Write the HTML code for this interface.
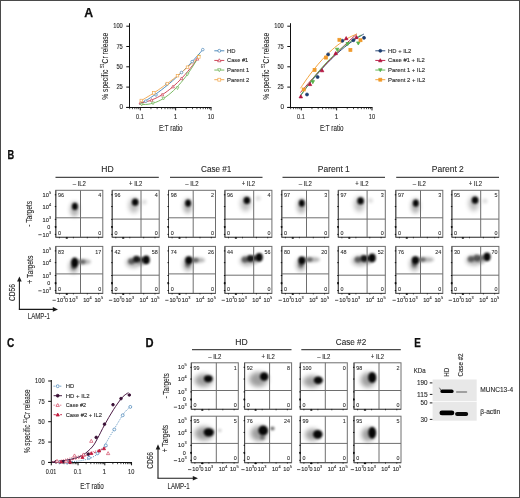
<!DOCTYPE html>
<html><head><meta charset="utf-8"><title>Figure</title><style>html,body{margin:0;padding:0;background:#fff;width:520px;height:498px;overflow:hidden;}svg{display:block;font-family:"Liberation Sans", sans-serif;will-change:transform;}</style></head><body><svg width="520" height="498" viewBox="0 0 520 498" font-family='"Liberation Sans", sans-serif'><defs><clipPath id="c558_1903"><rect x="55.8" y="190.3" width="47" height="47"/></clipPath><filter id="b0" x="-100%" y="-100%" width="300%" height="300%"><feGaussianBlur stdDeviation="2.3"/></filter><filter id="b1" x="-100%" y="-100%" width="300%" height="300%"><feGaussianBlur stdDeviation="1.0"/></filter><clipPath id="c1122_1903"><rect x="112.2" y="190.3" width="47" height="47"/></clipPath><filter id="b2" x="-100%" y="-100%" width="300%" height="300%"><feGaussianBlur stdDeviation="2.4"/></filter><filter id="b3" x="-100%" y="-100%" width="300%" height="300%"><feGaussianBlur stdDeviation="1.4"/></filter><clipPath id="c1685_1903"><rect x="168.5" y="190.3" width="47" height="47"/></clipPath><clipPath id="c2249_1903"><rect x="224.9" y="190.3" width="47" height="47"/></clipPath><clipPath id="c2818_1903"><rect x="281.8" y="190.3" width="47" height="47"/></clipPath><clipPath id="c3383_1903"><rect x="338.3" y="190.3" width="47" height="47"/></clipPath><clipPath id="c3958_1903"><rect x="395.8" y="190.3" width="47" height="47"/></clipPath><clipPath id="c4519_1903"><rect x="451.9" y="190.3" width="47" height="47"/></clipPath><clipPath id="c558_2464"><rect x="55.8" y="246.4" width="47" height="47"/></clipPath><filter id="b4" x="-100%" y="-100%" width="300%" height="300%"><feGaussianBlur stdDeviation="2.2"/></filter><filter id="b5" x="-100%" y="-100%" width="300%" height="300%"><feGaussianBlur stdDeviation="1.2"/></filter><filter id="b6" x="-100%" y="-100%" width="300%" height="300%"><feGaussianBlur stdDeviation="1.5"/></filter><clipPath id="c1122_2464"><rect x="112.2" y="246.4" width="47" height="47"/></clipPath><filter id="b7" x="-100%" y="-100%" width="300%" height="300%"><feGaussianBlur stdDeviation="2.0"/></filter><filter id="b8" x="-100%" y="-100%" width="300%" height="300%"><feGaussianBlur stdDeviation="1.3"/></filter><clipPath id="c1685_2464"><rect x="168.5" y="246.4" width="47" height="47"/></clipPath><clipPath id="c2249_2464"><rect x="224.9" y="246.4" width="47" height="47"/></clipPath><clipPath id="c2818_2464"><rect x="281.8" y="246.4" width="47" height="47"/></clipPath><clipPath id="c3383_2464"><rect x="338.3" y="246.4" width="47" height="47"/></clipPath><clipPath id="c3958_2464"><rect x="395.8" y="246.4" width="47" height="47"/></clipPath><clipPath id="c4519_2464"><rect x="451.9" y="246.4" width="47" height="47"/></clipPath><clipPath id="c1913_3628"><rect x="191.3" y="362.8" width="47" height="46.5"/></clipPath><filter id="b9" x="-100%" y="-100%" width="300%" height="300%"><feGaussianBlur stdDeviation="1.05"/></filter><clipPath id="c2446_3628"><rect x="244.6" y="362.8" width="47" height="46.5"/></clipPath><clipPath id="c3003_3628"><rect x="300.3" y="362.8" width="47" height="46.5"/></clipPath><clipPath id="c3540_3628"><rect x="354.0" y="362.8" width="47" height="46.5"/></clipPath><clipPath id="c1913_4162"><rect x="191.3" y="416.2" width="47" height="46.5"/></clipPath><clipPath id="c2446_4162"><rect x="244.6" y="416.2" width="47" height="46.5"/></clipPath><clipPath id="c3003_4162"><rect x="300.3" y="416.2" width="47" height="46.5"/></clipPath><clipPath id="c3540_4162"><rect x="354.0" y="416.2" width="47" height="46.5"/></clipPath><filter id="bb" x="-20%" y="-100%" width="140%" height="300%"><feGaussianBlur stdDeviation="0.55"/></filter></defs><rect x="0.5" y="0.5" width="519" height="497" fill="none" stroke="#4a4a4a" stroke-width="1"/>
<text x="84.20" y="16.56" font-size="12.2" text-anchor="start" fill="#0e0e0e" stroke="#0e0e0e" stroke-width="0.25" font-weight="bold" textLength="8.90" lengthAdjust="spacingAndGlyphs">A</text>
<text x="7.60" y="158.56" font-size="12.2" text-anchor="start" fill="#0e0e0e" stroke="#0e0e0e" stroke-width="0.25" font-weight="bold" textLength="6.70" lengthAdjust="spacingAndGlyphs">B</text>
<text x="7.00" y="347.41" font-size="12.2" text-anchor="start" fill="#0e0e0e" stroke="#0e0e0e" stroke-width="0.25" font-weight="bold" textLength="7.30" lengthAdjust="spacingAndGlyphs">C</text>
<text x="145.60" y="347.06" font-size="12.2" text-anchor="start" fill="#0e0e0e" stroke="#0e0e0e" stroke-width="0.25" font-weight="bold" textLength="8.05" lengthAdjust="spacingAndGlyphs">D</text>
<text x="414.30" y="346.86" font-size="12.2" text-anchor="start" fill="#0e0e0e" stroke="#0e0e0e" stroke-width="0.25" font-weight="bold" textLength="6.60" lengthAdjust="spacingAndGlyphs">E</text>
<line x1="129.50" y1="23.20" x2="129.50" y2="107.90" stroke="#111" stroke-width="1.05" />
<line x1="126.30" y1="107.40" x2="211.50" y2="107.40" stroke="#111" stroke-width="1.05" />
<line x1="126.30" y1="107.40" x2="129.50" y2="107.40" stroke="#111" stroke-width="1.0" />
<line x1="126.30" y1="87.10" x2="129.50" y2="87.10" stroke="#111" stroke-width="1.0" />
<text x="122.80" y="89.31" font-size="6.4" text-anchor="end" fill="#2a2a2a" stroke="#2a2a2a" stroke-width="0.12" textLength="6.40" lengthAdjust="spacingAndGlyphs">25</text>
<line x1="126.30" y1="66.80" x2="129.50" y2="66.80" stroke="#111" stroke-width="1.0" />
<text x="122.80" y="69.01" font-size="6.4" text-anchor="end" fill="#2a2a2a" stroke="#2a2a2a" stroke-width="0.12" textLength="6.40" lengthAdjust="spacingAndGlyphs">50</text>
<line x1="126.30" y1="46.50" x2="129.50" y2="46.50" stroke="#111" stroke-width="1.0" />
<text x="122.80" y="48.71" font-size="6.4" text-anchor="end" fill="#2a2a2a" stroke="#2a2a2a" stroke-width="0.12" textLength="6.40" lengthAdjust="spacingAndGlyphs">75</text>
<line x1="126.30" y1="26.20" x2="129.50" y2="26.20" stroke="#111" stroke-width="1.0" />
<text x="122.80" y="28.41" font-size="6.4" text-anchor="end" fill="#2a2a2a" stroke="#2a2a2a" stroke-width="0.12" textLength="9.60" lengthAdjust="spacingAndGlyphs">100</text>
<text x="123.00" y="109.31" font-size="6.4" text-anchor="end" fill="#2a2a2a" stroke="#2a2a2a" stroke-width="0.12">0</text>
<line x1="129.66" y1="107.40" x2="129.66" y2="109.20" stroke="#111" stroke-width="0.75" />
<line x1="132.46" y1="107.40" x2="132.46" y2="109.20" stroke="#111" stroke-width="0.75" />
<line x1="134.82" y1="107.40" x2="134.82" y2="109.20" stroke="#111" stroke-width="0.75" />
<line x1="136.87" y1="107.40" x2="136.87" y2="109.20" stroke="#111" stroke-width="0.75" />
<line x1="138.68" y1="107.40" x2="138.68" y2="109.20" stroke="#111" stroke-width="0.75" />
<line x1="140.30" y1="107.40" x2="140.30" y2="110.40" stroke="#111" stroke-width="1.0" />
<line x1="150.94" y1="107.40" x2="150.94" y2="109.20" stroke="#111" stroke-width="0.75" />
<line x1="157.17" y1="107.40" x2="157.17" y2="109.20" stroke="#111" stroke-width="0.75" />
<line x1="161.58" y1="107.40" x2="161.58" y2="109.20" stroke="#111" stroke-width="0.75" />
<line x1="165.01" y1="107.40" x2="165.01" y2="109.20" stroke="#111" stroke-width="0.75" />
<line x1="167.81" y1="107.40" x2="167.81" y2="109.20" stroke="#111" stroke-width="0.75" />
<line x1="170.17" y1="107.40" x2="170.17" y2="109.20" stroke="#111" stroke-width="0.75" />
<line x1="172.22" y1="107.40" x2="172.22" y2="109.20" stroke="#111" stroke-width="0.75" />
<line x1="174.03" y1="107.40" x2="174.03" y2="109.20" stroke="#111" stroke-width="0.75" />
<line x1="175.65" y1="107.40" x2="175.65" y2="110.40" stroke="#111" stroke-width="1.0" />
<line x1="186.29" y1="107.40" x2="186.29" y2="109.20" stroke="#111" stroke-width="0.75" />
<line x1="192.52" y1="107.40" x2="192.52" y2="109.20" stroke="#111" stroke-width="0.75" />
<line x1="196.93" y1="107.40" x2="196.93" y2="109.20" stroke="#111" stroke-width="0.75" />
<line x1="200.36" y1="107.40" x2="200.36" y2="109.20" stroke="#111" stroke-width="0.75" />
<line x1="203.16" y1="107.40" x2="203.16" y2="109.20" stroke="#111" stroke-width="0.75" />
<line x1="205.52" y1="107.40" x2="205.52" y2="109.20" stroke="#111" stroke-width="0.75" />
<line x1="207.57" y1="107.40" x2="207.57" y2="109.20" stroke="#111" stroke-width="0.75" />
<line x1="209.38" y1="107.40" x2="209.38" y2="109.20" stroke="#111" stroke-width="0.75" />
<line x1="211.00" y1="107.40" x2="211.00" y2="110.40" stroke="#111" stroke-width="1.0" />
<text x="139.90" y="118.91" font-size="6.4" text-anchor="middle" fill="#2a2a2a" stroke="#2a2a2a" stroke-width="0.12" textLength="7.60" lengthAdjust="spacingAndGlyphs">0.1</text>
<text x="175.65" y="118.91" font-size="6.4" text-anchor="middle" fill="#2a2a2a" stroke="#2a2a2a" stroke-width="0.12">1</text>
<text x="211.00" y="118.91" font-size="6.4" text-anchor="middle" fill="#2a2a2a" stroke="#2a2a2a" stroke-width="0.12" textLength="6.30" lengthAdjust="spacingAndGlyphs">10</text>
<text x="170.75" y="130.94" font-size="8.8" text-anchor="middle" fill="#2a2a2a" stroke="#2a2a2a" stroke-width="0.12" textLength="23.70" lengthAdjust="spacingAndGlyphs">E:T ratio</text>
<text x="104.30" y="69.44" font-size="9.4" text-anchor="middle" fill="#2a2a2a" stroke="#2a2a2a" stroke-width="0.12" transform="rotate(-90 104.30 66.20)" textLength="67" lengthAdjust="spacingAndGlyphs">% specific <tspan font-size="5.6" dy="-3.4">51</tspan><tspan dy="3.4">Cr release</tspan></text>
<path d="M139.50,104.31 C139.96,104.05 141.33,103.29 142.25,102.76 C143.17,102.24 144.09,101.70 145.00,101.15 C145.92,100.59 146.84,100.03 147.76,99.45 C148.67,98.87 149.59,98.28 150.51,97.68 C151.43,97.08 152.34,96.46 153.26,95.84 C154.18,95.21 155.10,94.57 156.01,93.91 C156.93,93.26 157.85,92.59 158.77,91.92 C159.68,91.24 160.60,90.55 161.52,89.84 C162.43,89.14 163.35,88.42 164.27,87.69 C165.19,86.96 166.10,86.22 167.02,85.47 C167.94,84.71 168.86,83.94 169.77,83.16 C170.69,82.38 171.61,81.59 172.53,80.79 C173.44,79.98 174.36,79.16 175.28,78.33 C176.20,77.50 177.11,76.66 178.03,75.80 C178.95,74.95 179.87,74.08 180.78,73.20 C181.70,72.32 182.62,71.42 183.53,70.52 C184.45,69.61 185.37,68.69 186.29,67.76 C187.20,66.83 188.12,65.88 189.04,64.92 C189.96,63.97 190.87,63.00 191.79,62.02 C192.71,61.03 193.63,60.04 194.54,59.03 C195.46,58.02 196.38,57.00 197.30,55.97 C198.21,54.94 199.13,53.89 200.05,52.83 C200.97,51.77 202.34,50.15 202.80,49.62" fill="none" stroke="#3f7fb4" stroke-width="0.9"/>
<path d="M139.80,102.93 C140.22,102.87 141.47,102.71 142.31,102.57 C143.14,102.43 143.98,102.26 144.82,102.07 C145.65,101.88 146.49,101.66 147.33,101.43 C148.16,101.19 149.00,100.93 149.83,100.64 C150.67,100.35 151.51,100.05 152.34,99.71 C153.18,99.38 154.02,99.02 154.85,98.64 C155.69,98.26 156.52,97.86 157.36,97.43 C158.20,97.00 159.03,96.55 159.87,96.07 C160.71,95.60 161.54,95.10 162.38,94.58 C163.21,94.05 164.05,93.51 164.89,92.94 C165.72,92.37 166.56,91.77 167.40,91.15 C168.23,90.54 169.07,89.89 169.90,89.23 C170.74,88.56 171.58,87.87 172.41,87.16 C173.25,86.45 174.09,85.71 174.92,84.95 C175.76,84.19 176.59,83.41 177.43,82.60 C178.27,81.79 179.10,80.96 179.94,80.10 C180.78,79.25 181.61,78.37 182.45,77.47 C183.28,76.56 184.12,75.64 184.96,74.69 C185.79,73.74 186.63,72.76 187.47,71.76 C188.30,70.77 189.14,69.75 189.97,68.70 C190.81,67.65 191.65,66.59 192.48,65.49 C193.32,64.40 194.16,63.28 194.99,62.14 C195.83,61.00 197.08,59.23 197.50,58.65" fill="none" stroke="#c8354a" stroke-width="0.9"/>
<path d="M140.50,104.26 C140.92,104.29 142.19,104.42 143.03,104.45 C143.88,104.48 144.72,104.48 145.57,104.44 C146.41,104.40 147.26,104.33 148.10,104.22 C148.95,104.11 149.79,103.97 150.64,103.79 C151.48,103.62 152.33,103.41 153.17,103.16 C154.02,102.92 154.86,102.64 155.71,102.32 C156.55,102.01 157.40,101.66 158.24,101.28 C159.09,100.89 159.93,100.47 160.78,100.02 C161.62,99.57 162.47,99.08 163.31,98.56 C164.16,98.04 165.00,97.48 165.85,96.89 C166.69,96.30 167.54,95.68 168.38,95.02 C169.23,94.36 170.07,93.67 170.92,92.94 C171.76,92.21 172.61,91.45 173.45,90.65 C174.30,89.85 175.14,89.02 175.99,88.16 C176.83,87.29 177.68,86.39 178.52,85.45 C179.37,84.52 180.21,83.55 181.06,82.55 C181.90,81.54 182.75,80.50 183.59,79.43 C184.44,78.36 185.28,77.25 186.13,76.11 C186.97,74.97 187.82,73.79 188.66,72.58 C189.51,71.37 190.35,70.12 191.20,68.84 C192.04,67.56 192.89,66.25 193.73,64.90 C194.58,63.55 195.42,62.16 196.27,60.75 C197.11,59.33 198.38,57.12 198.80,56.39" fill="none" stroke="#6db355" stroke-width="0.9"/>
<path d="M140.50,100.96 C140.92,100.72 142.19,100.00 143.03,99.52 C143.88,99.03 144.72,98.54 145.57,98.04 C146.41,97.53 147.26,97.03 148.10,96.51 C148.95,95.99 149.79,95.47 150.64,94.94 C151.48,94.41 152.33,93.88 153.17,93.33 C154.02,92.79 154.86,92.23 155.71,91.68 C156.55,91.12 157.40,90.55 158.24,89.98 C159.09,89.40 159.93,88.82 160.78,88.24 C161.62,87.65 162.47,87.05 163.31,86.45 C164.16,85.85 165.00,85.24 165.85,84.62 C166.69,84.01 167.54,83.38 168.38,82.75 C169.23,82.12 170.07,81.48 170.92,80.84 C171.76,80.19 172.61,79.54 173.45,78.88 C174.30,78.22 175.14,77.55 175.99,76.88 C176.83,76.20 177.68,75.52 178.52,74.83 C179.37,74.15 180.21,73.45 181.06,72.75 C181.90,72.04 182.75,71.33 183.59,70.62 C184.44,69.90 185.28,69.17 186.13,68.44 C186.97,67.71 187.82,66.97 188.66,66.22 C189.51,65.48 190.35,64.72 191.20,63.96 C192.04,63.20 192.89,62.43 193.73,61.66 C194.58,60.88 195.42,60.10 196.27,59.31 C197.11,58.52 198.38,57.32 198.80,56.92" fill="none" stroke="#f2a446" stroke-width="0.9"/>
<circle cx="145.80" cy="101.16" r="1.3" fill="white" stroke="#3f7fb4" stroke-width="0.65"/>
<circle cx="156.00" cy="94.92" r="1.3" fill="white" stroke="#3f7fb4" stroke-width="0.65"/>
<circle cx="166.80" cy="84.15" r="1.3" fill="white" stroke="#3f7fb4" stroke-width="0.65"/>
<circle cx="181.50" cy="72.51" r="1.3" fill="white" stroke="#3f7fb4" stroke-width="0.65"/>
<circle cx="192.20" cy="61.58" r="1.3" fill="white" stroke="#3f7fb4" stroke-width="0.65"/>
<circle cx="202.80" cy="49.62" r="1.3" fill="white" stroke="#3f7fb4" stroke-width="0.65"/>
<path d="M140.50,101.35 L142.00,104.04 L139.00,104.04 Z" fill="white" stroke="#c8354a" stroke-width="0.65"/>
<path d="M151.50,98.55 L153.00,101.24 L150.00,101.24 Z" fill="white" stroke="#c8354a" stroke-width="0.65"/>
<path d="M162.20,93.19 L163.69,95.88 L160.70,95.88 Z" fill="white" stroke="#c8354a" stroke-width="0.65"/>
<path d="M173.00,85.16 L174.50,87.85 L171.50,87.85 Z" fill="white" stroke="#c8354a" stroke-width="0.65"/>
<path d="M181.50,76.98 L183.00,79.68 L180.00,79.68 Z" fill="white" stroke="#c8354a" stroke-width="0.65"/>
<path d="M197.30,57.44 L198.80,60.13 L195.81,60.13 Z" fill="white" stroke="#c8354a" stroke-width="0.65"/>
<path d="M141.70,105.87 L143.19,103.18 L140.20,103.18 Z" fill="white" stroke="#6db355" stroke-width="0.65"/>
<path d="M153.00,104.71 L154.50,102.02 L151.50,102.02 Z" fill="white" stroke="#6db355" stroke-width="0.65"/>
<path d="M163.50,99.94 L165.00,97.25 L162.00,97.25 Z" fill="white" stroke="#6db355" stroke-width="0.65"/>
<path d="M177.50,89.56 L179.00,86.87 L176.00,86.87 Z" fill="white" stroke="#6db355" stroke-width="0.65"/>
<path d="M187.50,75.71 L189.00,73.02 L186.00,73.02 Z" fill="white" stroke="#6db355" stroke-width="0.65"/>
<path d="M198.80,57.88 L200.30,55.19 L197.31,55.19 Z" fill="white" stroke="#6db355" stroke-width="0.65"/>
<rect x="140.00" y="99.21" width="2.60" height="2.60" fill="white" stroke="#f2a446" stroke-width="0.65"/>
<rect x="152.50" y="91.63" width="2.60" height="2.60" fill="white" stroke="#f2a446" stroke-width="0.65"/>
<rect x="166.00" y="82.26" width="2.60" height="2.60" fill="white" stroke="#f2a446" stroke-width="0.65"/>
<rect x="176.20" y="74.36" width="2.60" height="2.60" fill="white" stroke="#f2a446" stroke-width="0.65"/>
<rect x="186.20" y="65.94" width="2.60" height="2.60" fill="white" stroke="#f2a446" stroke-width="0.65"/>
<rect x="197.50" y="55.62" width="2.60" height="2.60" fill="white" stroke="#f2a446" stroke-width="0.65"/>
<line x1="214.30" y1="50.80" x2="224.30" y2="50.80" stroke="#3f7fb4" stroke-width="0.9" />
<circle cx="219.30" cy="50.80" r="1.45" fill="white" stroke="#3f7fb4" stroke-width="0.7"/>
<text x="227.10" y="52.84" font-size="5.9" text-anchor="start" fill="#2a2a2a" stroke="#2a2a2a" stroke-width="0.12" textLength="8.50" lengthAdjust="spacingAndGlyphs">HD</text>
<line x1="214.30" y1="60.43" x2="224.30" y2="60.43" stroke="#c8354a" stroke-width="0.9" />
<path d="M219.30,58.76 L220.97,61.76 L217.63,61.76 Z" fill="white" stroke="#c8354a" stroke-width="0.7"/>
<text x="227.10" y="62.47" font-size="5.9" text-anchor="start" fill="#2a2a2a" stroke="#2a2a2a" stroke-width="0.12" textLength="21.10" lengthAdjust="spacingAndGlyphs">Case #1</text>
<line x1="214.30" y1="70.06" x2="224.30" y2="70.06" stroke="#6db355" stroke-width="0.9" />
<path d="M219.30,71.73 L220.97,68.73 L217.63,68.73 Z" fill="white" stroke="#6db355" stroke-width="0.7"/>
<text x="227.10" y="72.10" font-size="5.9" text-anchor="start" fill="#2a2a2a" stroke="#2a2a2a" stroke-width="0.12" textLength="22.10" lengthAdjust="spacingAndGlyphs">Parent 1</text>
<line x1="214.30" y1="79.69" x2="224.30" y2="79.69" stroke="#f2a446" stroke-width="0.9" />
<rect x="217.85" y="78.24" width="2.90" height="2.90" fill="white" stroke="#f2a446" stroke-width="0.7"/>
<text x="227.10" y="81.73" font-size="5.9" text-anchor="start" fill="#2a2a2a" stroke="#2a2a2a" stroke-width="0.12" textLength="22.10" lengthAdjust="spacingAndGlyphs">Parent 2</text>
<line x1="290.50" y1="23.20" x2="290.50" y2="107.90" stroke="#111" stroke-width="1.05" />
<line x1="287.30" y1="107.40" x2="372.50" y2="107.40" stroke="#111" stroke-width="1.05" />
<line x1="287.30" y1="107.40" x2="290.50" y2="107.40" stroke="#111" stroke-width="1.0" />
<line x1="287.30" y1="87.10" x2="290.50" y2="87.10" stroke="#111" stroke-width="1.0" />
<text x="283.80" y="89.31" font-size="6.4" text-anchor="end" fill="#2a2a2a" stroke="#2a2a2a" stroke-width="0.12" textLength="6.40" lengthAdjust="spacingAndGlyphs">25</text>
<line x1="287.30" y1="66.80" x2="290.50" y2="66.80" stroke="#111" stroke-width="1.0" />
<text x="283.80" y="69.01" font-size="6.4" text-anchor="end" fill="#2a2a2a" stroke="#2a2a2a" stroke-width="0.12" textLength="6.40" lengthAdjust="spacingAndGlyphs">50</text>
<line x1="287.30" y1="46.50" x2="290.50" y2="46.50" stroke="#111" stroke-width="1.0" />
<text x="283.80" y="48.71" font-size="6.4" text-anchor="end" fill="#2a2a2a" stroke="#2a2a2a" stroke-width="0.12" textLength="6.40" lengthAdjust="spacingAndGlyphs">75</text>
<line x1="287.30" y1="26.20" x2="290.50" y2="26.20" stroke="#111" stroke-width="1.0" />
<text x="283.80" y="28.41" font-size="6.4" text-anchor="end" fill="#2a2a2a" stroke="#2a2a2a" stroke-width="0.12" textLength="9.60" lengthAdjust="spacingAndGlyphs">100</text>
<text x="284.00" y="109.31" font-size="6.4" text-anchor="end" fill="#2a2a2a" stroke="#2a2a2a" stroke-width="0.12">0</text>
<line x1="290.66" y1="107.40" x2="290.66" y2="109.20" stroke="#111" stroke-width="0.75" />
<line x1="293.46" y1="107.40" x2="293.46" y2="109.20" stroke="#111" stroke-width="0.75" />
<line x1="295.82" y1="107.40" x2="295.82" y2="109.20" stroke="#111" stroke-width="0.75" />
<line x1="297.87" y1="107.40" x2="297.87" y2="109.20" stroke="#111" stroke-width="0.75" />
<line x1="299.68" y1="107.40" x2="299.68" y2="109.20" stroke="#111" stroke-width="0.75" />
<line x1="301.30" y1="107.40" x2="301.30" y2="110.40" stroke="#111" stroke-width="1.0" />
<line x1="311.94" y1="107.40" x2="311.94" y2="109.20" stroke="#111" stroke-width="0.75" />
<line x1="318.17" y1="107.40" x2="318.17" y2="109.20" stroke="#111" stroke-width="0.75" />
<line x1="322.58" y1="107.40" x2="322.58" y2="109.20" stroke="#111" stroke-width="0.75" />
<line x1="326.01" y1="107.40" x2="326.01" y2="109.20" stroke="#111" stroke-width="0.75" />
<line x1="328.81" y1="107.40" x2="328.81" y2="109.20" stroke="#111" stroke-width="0.75" />
<line x1="331.17" y1="107.40" x2="331.17" y2="109.20" stroke="#111" stroke-width="0.75" />
<line x1="333.22" y1="107.40" x2="333.22" y2="109.20" stroke="#111" stroke-width="0.75" />
<line x1="335.03" y1="107.40" x2="335.03" y2="109.20" stroke="#111" stroke-width="0.75" />
<line x1="336.65" y1="107.40" x2="336.65" y2="110.40" stroke="#111" stroke-width="1.0" />
<line x1="347.29" y1="107.40" x2="347.29" y2="109.20" stroke="#111" stroke-width="0.75" />
<line x1="353.52" y1="107.40" x2="353.52" y2="109.20" stroke="#111" stroke-width="0.75" />
<line x1="357.93" y1="107.40" x2="357.93" y2="109.20" stroke="#111" stroke-width="0.75" />
<line x1="361.36" y1="107.40" x2="361.36" y2="109.20" stroke="#111" stroke-width="0.75" />
<line x1="364.16" y1="107.40" x2="364.16" y2="109.20" stroke="#111" stroke-width="0.75" />
<line x1="366.52" y1="107.40" x2="366.52" y2="109.20" stroke="#111" stroke-width="0.75" />
<line x1="368.57" y1="107.40" x2="368.57" y2="109.20" stroke="#111" stroke-width="0.75" />
<line x1="370.38" y1="107.40" x2="370.38" y2="109.20" stroke="#111" stroke-width="0.75" />
<line x1="372.00" y1="107.40" x2="372.00" y2="110.40" stroke="#111" stroke-width="1.0" />
<text x="300.90" y="118.91" font-size="6.4" text-anchor="middle" fill="#2a2a2a" stroke="#2a2a2a" stroke-width="0.12" textLength="7.60" lengthAdjust="spacingAndGlyphs">0.1</text>
<text x="336.65" y="118.91" font-size="6.4" text-anchor="middle" fill="#2a2a2a" stroke="#2a2a2a" stroke-width="0.12">1</text>
<text x="372.00" y="118.91" font-size="6.4" text-anchor="middle" fill="#2a2a2a" stroke="#2a2a2a" stroke-width="0.12" textLength="6.30" lengthAdjust="spacingAndGlyphs">10</text>
<text x="331.75" y="130.94" font-size="8.8" text-anchor="middle" fill="#2a2a2a" stroke="#2a2a2a" stroke-width="0.12" textLength="23.70" lengthAdjust="spacingAndGlyphs">E:T ratio</text>
<text x="265.30" y="69.44" font-size="9.4" text-anchor="middle" fill="#2a2a2a" stroke="#2a2a2a" stroke-width="0.12" transform="rotate(-90 265.30 66.20)" textLength="67" lengthAdjust="spacingAndGlyphs">% specific <tspan font-size="5.6" dy="-3.4">51</tspan><tspan dy="3.4">Cr release</tspan></text>
<path d="M300.50,95.64 C300.96,95.01 302.33,93.10 303.25,91.85 C304.17,90.61 305.09,89.38 306.00,88.17 C306.92,86.96 307.84,85.77 308.76,84.59 C309.67,83.41 310.59,82.25 311.51,81.11 C312.43,79.96 313.34,78.83 314.26,77.72 C315.18,76.61 316.10,75.52 317.01,74.44 C317.93,73.36 318.85,72.30 319.77,71.26 C320.68,70.22 321.60,69.19 322.52,68.18 C323.43,67.17 324.35,66.18 325.27,65.20 C326.19,64.23 327.10,63.27 328.02,62.32 C328.94,61.38 329.86,60.45 330.77,59.54 C331.69,58.64 332.61,57.74 333.53,56.87 C334.44,55.99 335.36,55.13 336.28,54.29 C337.20,53.45 338.11,52.62 339.03,51.81 C339.95,51.00 340.87,50.21 341.78,49.44 C342.70,48.66 343.62,47.90 344.53,47.16 C345.45,46.42 346.37,45.70 347.29,44.99 C348.20,44.28 349.12,43.59 350.04,42.91 C350.96,42.24 351.87,41.58 352.79,40.94 C353.71,40.30 354.63,39.68 355.54,39.07 C356.46,38.46 357.38,37.87 358.30,37.30 C359.21,36.72 360.13,36.16 361.05,35.62 C361.97,35.08 363.34,34.31 363.80,34.05" fill="none" stroke="#1d3e70" stroke-width="0.9"/>
<path d="M300.50,92.51 C300.91,92.03 302.13,90.58 302.94,89.62 C303.76,88.67 304.57,87.72 305.39,86.77 C306.20,85.82 307.02,84.88 307.83,83.94 C308.64,83.01 309.46,82.08 310.27,81.15 C311.09,80.23 311.90,79.30 312.72,78.39 C313.53,77.47 314.35,76.56 315.16,75.66 C315.98,74.75 316.79,73.85 317.60,72.96 C318.42,72.06 319.23,71.18 320.05,70.29 C320.86,69.41 321.68,68.53 322.49,67.65 C323.31,66.78 324.12,65.91 324.93,65.05 C325.75,64.19 326.56,63.33 327.38,62.48 C328.19,61.62 329.01,60.77 329.82,59.93 C330.64,59.09 331.45,58.25 332.27,57.42 C333.08,56.59 333.89,55.76 334.71,54.94 C335.52,54.12 336.34,53.30 337.15,52.49 C337.97,51.68 338.78,50.87 339.60,50.07 C340.41,49.27 341.22,48.48 342.04,47.69 C342.85,46.90 343.67,46.11 344.48,45.33 C345.30,44.55 346.11,43.78 346.93,43.01 C347.74,42.24 348.56,41.48 349.37,40.72 C350.18,39.96 351.00,39.20 351.81,38.46 C352.63,37.71 353.44,36.96 354.26,36.23 C355.07,35.49 356.29,34.39 356.70,34.03" fill="none" stroke="#b3123c" stroke-width="0.9"/>
<path d="M300.50,95.88 C300.94,95.23 302.26,93.27 303.14,91.99 C304.02,90.71 304.91,89.45 305.79,88.21 C306.67,86.97 307.55,85.75 308.43,84.55 C309.31,83.35 310.19,82.17 311.07,81.00 C311.96,79.84 312.84,78.69 313.72,77.56 C314.60,76.44 315.48,75.33 316.36,74.24 C317.24,73.15 318.12,72.08 319.00,71.03 C319.89,69.98 320.77,68.94 321.65,67.93 C322.53,66.91 323.41,65.92 324.29,64.94 C325.17,63.97 326.05,63.01 326.93,62.07 C327.82,61.13 328.70,60.21 329.58,59.31 C330.46,58.41 331.34,57.52 332.22,56.66 C333.10,55.80 333.98,54.95 334.87,54.12 C335.75,53.30 336.63,52.49 337.51,51.70 C338.39,50.91 339.27,50.14 340.15,49.39 C341.03,48.64 341.91,47.91 342.80,47.19 C343.68,46.48 344.56,45.78 345.44,45.11 C346.32,44.43 347.20,43.77 348.08,43.13 C348.96,42.50 349.84,41.88 350.73,41.27 C351.61,40.67 352.49,40.09 353.37,39.53 C354.25,38.96 355.13,38.42 356.01,37.89 C356.89,37.37 357.78,36.86 358.66,36.37 C359.54,35.88 360.86,35.20 361.30,34.96" fill="none" stroke="#58b04a" stroke-width="0.9"/>
<path d="M300.50,88.28 C300.91,87.66 302.13,85.78 302.94,84.57 C303.76,83.35 304.57,82.15 305.39,80.98 C306.20,79.80 307.02,78.65 307.83,77.51 C308.64,76.38 309.46,75.27 310.27,74.17 C311.09,73.08 311.90,72.01 312.72,70.96 C313.53,69.90 314.35,68.87 315.16,67.86 C315.98,66.85 316.79,65.86 317.60,64.89 C318.42,63.92 319.23,62.97 320.05,62.04 C320.86,61.11 321.68,60.20 322.49,59.31 C323.31,58.43 324.12,57.56 324.93,56.71 C325.75,55.86 326.56,55.04 327.38,54.23 C328.19,53.42 329.01,52.64 329.82,51.87 C330.64,51.11 331.45,50.36 332.27,49.64 C333.08,48.92 333.89,48.21 334.71,47.53 C335.52,46.85 336.34,46.18 337.15,45.54 C337.97,44.90 338.78,44.28 339.60,43.68 C340.41,43.08 341.22,42.50 342.04,41.94 C342.85,41.38 343.67,40.84 344.48,40.32 C345.30,39.80 346.11,39.30 346.93,38.82 C347.74,38.35 348.56,37.89 349.37,37.45 C350.18,37.01 351.00,36.60 351.81,36.20 C352.63,35.81 353.44,35.43 354.26,35.08 C355.07,34.72 356.29,34.24 356.70,34.07" fill="none" stroke="#f09a2a" stroke-width="0.9"/>
<circle cx="307.00" cy="94.50" r="1.5" fill="#1d3e70" stroke="#1d3e70" stroke-width="0.75"/>
<circle cx="317.60" cy="77.00" r="1.5" fill="#1d3e70" stroke="#1d3e70" stroke-width="0.75"/>
<circle cx="328.10" cy="54.40" r="1.5" fill="#1d3e70" stroke="#1d3e70" stroke-width="0.75"/>
<circle cx="342.40" cy="40.80" r="1.5" fill="#1d3e70" stroke="#1d3e70" stroke-width="0.75"/>
<circle cx="353.40" cy="40.20" r="1.5" fill="#1d3e70" stroke="#1d3e70" stroke-width="0.75"/>
<circle cx="364.00" cy="37.80" r="1.5" fill="#1d3e70" stroke="#1d3e70" stroke-width="0.75"/>
<path d="M300.80,94.78 L302.53,97.88 L299.07,97.88 Z" fill="#b3123c" stroke="#b3123c" stroke-width="0.75"/>
<path d="M310.00,82.48 L311.73,85.58 L308.27,85.58 Z" fill="#b3123c" stroke="#b3123c" stroke-width="0.75"/>
<path d="M322.10,68.68 L323.83,71.78 L320.38,71.78 Z" fill="#b3123c" stroke="#b3123c" stroke-width="0.75"/>
<path d="M335.70,51.57 L337.43,54.68 L333.97,54.68 Z" fill="#b3123c" stroke="#b3123c" stroke-width="0.75"/>
<path d="M346.20,36.57 L347.93,39.68 L344.47,39.68 Z" fill="#b3123c" stroke="#b3123c" stroke-width="0.75"/>
<path d="M356.40,35.48 L358.12,38.58 L354.67,38.58 Z" fill="#b3123c" stroke="#b3123c" stroke-width="0.75"/>
<path d="M312.80,83.72 L314.53,80.62 L311.07,80.62 Z" fill="#58b04a" stroke="#58b04a" stroke-width="0.75"/>
<path d="M337.20,51.33 L338.93,48.22 L335.47,48.22 Z" fill="#58b04a" stroke="#58b04a" stroke-width="0.75"/>
<path d="M347.70,45.62 L349.43,42.52 L345.97,42.52 Z" fill="#58b04a" stroke="#58b04a" stroke-width="0.75"/>
<path d="M358.30,45.02 L360.03,41.92 L356.57,41.92 Z" fill="#58b04a" stroke="#58b04a" stroke-width="0.75"/>
<rect x="302.20" y="88.00" width="3.00" height="3.00" fill="#f09a2a" stroke="#f09a2a" stroke-width="0.75"/>
<rect x="313.10" y="68.40" width="3.00" height="3.00" fill="#f09a2a" stroke="#f09a2a" stroke-width="0.75"/>
<rect x="324.40" y="56.10" width="3.00" height="3.00" fill="#f09a2a" stroke="#f09a2a" stroke-width="0.75"/>
<rect x="337.90" y="38.30" width="3.00" height="3.00" fill="#f09a2a" stroke="#f09a2a" stroke-width="0.75"/>
<rect x="348.90" y="48.40" width="3.00" height="3.00" fill="#f09a2a" stroke="#f09a2a" stroke-width="0.75"/>
<rect x="359.00" y="38.70" width="3.00" height="3.00" fill="#f09a2a" stroke="#f09a2a" stroke-width="0.75"/>
<line x1="375.30" y1="50.80" x2="385.30" y2="50.80" stroke="#1d3e70" stroke-width="0.9" />
<circle cx="380.30" cy="50.80" r="1.5" fill="#1d3e70" stroke="#1d3e70" stroke-width="0.7"/>
<text x="388.10" y="52.84" font-size="5.9" text-anchor="start" fill="#2a2a2a" stroke="#2a2a2a" stroke-width="0.12" textLength="23.30" lengthAdjust="spacingAndGlyphs">HD + IL2</text>
<line x1="375.30" y1="60.43" x2="385.30" y2="60.43" stroke="#b3123c" stroke-width="0.9" />
<path d="M380.30,58.70 L382.03,61.81 L378.57,61.81 Z" fill="#b3123c" stroke="#b3123c" stroke-width="0.7"/>
<text x="388.10" y="62.47" font-size="5.9" text-anchor="start" fill="#2a2a2a" stroke="#2a2a2a" stroke-width="0.12" textLength="36.60" lengthAdjust="spacingAndGlyphs">Case #1 + IL2</text>
<line x1="375.30" y1="70.06" x2="385.30" y2="70.06" stroke="#58b04a" stroke-width="0.9" />
<path d="M380.30,71.78 L382.03,68.68 L378.57,68.68 Z" fill="#58b04a" stroke="#58b04a" stroke-width="0.7"/>
<text x="388.10" y="72.10" font-size="5.9" text-anchor="start" fill="#2a2a2a" stroke="#2a2a2a" stroke-width="0.12" textLength="36.90" lengthAdjust="spacingAndGlyphs">Parent 1 + IL2</text>
<line x1="375.30" y1="79.69" x2="385.30" y2="79.69" stroke="#f09a2a" stroke-width="0.9" />
<rect x="378.80" y="78.19" width="3.00" height="3.00" fill="#f09a2a" stroke="#f09a2a" stroke-width="0.7"/>
<text x="388.10" y="81.73" font-size="5.9" text-anchor="start" fill="#2a2a2a" stroke="#2a2a2a" stroke-width="0.12" textLength="37.20" lengthAdjust="spacingAndGlyphs">Parent 2 + IL2</text>
<g clip-path="url(#c558_1903)">
<ellipse cx="74.50" cy="209.20" rx="4.5" ry="7.5" fill="#000" opacity="0.3" filter="url(#b0)"/>
<ellipse cx="74.90" cy="206.40" rx="2.9" ry="3.6" fill="#000" opacity="0.97" filter="url(#b1)"/>
</g>
<rect x="55.80" y="190.30" width="47" height="47" fill="none" stroke="#6e6e6e" stroke-width="1"/>
<line x1="80.50" y1="190.30" x2="80.50" y2="237.30" stroke="#6e6e6e" stroke-width="1" />
<line x1="55.80" y1="217.80" x2="102.80" y2="217.80" stroke="#6e6e6e" stroke-width="1" />
<line x1="55.80" y1="190.30" x2="55.80" y2="237.30" stroke="#4a4a4a" stroke-width="1" />
<line x1="55.80" y1="237.30" x2="102.80" y2="237.30" stroke="#505050" stroke-width="1" />
<line x1="54.80" y1="194.80" x2="56.20" y2="194.80" stroke="#111" stroke-width="1.0" />
<line x1="54.80" y1="206.55" x2="56.20" y2="206.55" stroke="#111" stroke-width="1.0" />
<line x1="54.80" y1="219.40" x2="56.20" y2="219.40" stroke="#111" stroke-width="1.0" />
<line x1="54.80" y1="226.60" x2="56.20" y2="226.60" stroke="#111" stroke-width="1.0" />
<line x1="54.80" y1="234.40" x2="56.20" y2="234.40" stroke="#111" stroke-width="1.0" />
<ellipse cx="55.60" cy="227.10" rx="0.8" ry="1.2" fill="#111"/>
<line x1="59.40" y1="236.90" x2="59.40" y2="238.30" stroke="#222" stroke-width="0.9" />
<line x1="66.80" y1="236.90" x2="66.80" y2="238.30" stroke="#222" stroke-width="0.9" />
<line x1="73.40" y1="236.90" x2="73.40" y2="238.30" stroke="#222" stroke-width="0.9" />
<line x1="87.30" y1="236.90" x2="87.30" y2="238.30" stroke="#222" stroke-width="0.9" />
<line x1="98.60" y1="236.90" x2="98.60" y2="238.30" stroke="#222" stroke-width="0.9" />
<ellipse cx="66.80" cy="238.00" rx="1.3" ry="0.8" fill="#111"/>
<text x="58.00" y="197.46" font-size="5.4" text-anchor="start" fill="#2a2a2a" stroke="#2a2a2a" stroke-width="0.08">96</text>
<text x="101.30" y="197.46" font-size="5.4" text-anchor="end" fill="#2a2a2a" stroke="#2a2a2a" stroke-width="0.08">4</text>
<text x="58.00" y="234.76" font-size="5.4" text-anchor="start" fill="#2a2a2a" stroke="#2a2a2a" stroke-width="0.08">0</text>
<text x="101.30" y="234.76" font-size="5.4" text-anchor="end" fill="#2a2a2a" stroke="#2a2a2a" stroke-width="0.08">0</text>
<text x="45.70" y="196.90" font-size="6.1" text-anchor="middle" fill="#2a2a2a" stroke="#2a2a2a" stroke-width="0.12" textLength="6.35" lengthAdjust="spacingAndGlyphs">10</text>
<text x="49.02" y="193.95" font-size="3.904" text-anchor="start" fill="#2a2a2a" stroke="#2a2a2a" stroke-width="0.1">5</text>
<text x="45.70" y="208.65" font-size="6.1" text-anchor="middle" fill="#2a2a2a" stroke="#2a2a2a" stroke-width="0.12" textLength="6.35" lengthAdjust="spacingAndGlyphs">10</text>
<text x="49.02" y="205.70" font-size="3.904" text-anchor="start" fill="#2a2a2a" stroke="#2a2a2a" stroke-width="0.1">4</text>
<text x="45.70" y="221.50" font-size="6.1" text-anchor="middle" fill="#2a2a2a" stroke="#2a2a2a" stroke-width="0.12" textLength="6.35" lengthAdjust="spacingAndGlyphs">10</text>
<text x="49.02" y="218.55" font-size="3.904" text-anchor="start" fill="#2a2a2a" stroke="#2a2a2a" stroke-width="0.1">3</text>
<text x="50.30" y="228.64" font-size="5.9" text-anchor="end" fill="#2a2a2a" stroke="#2a2a2a" stroke-width="0.12" textLength="3.00" lengthAdjust="spacingAndGlyphs">0</text>
<text x="45.70" y="236.50" font-size="6.1" text-anchor="middle" fill="#2a2a2a" stroke="#2a2a2a" stroke-width="0.12" textLength="6.35" lengthAdjust="spacingAndGlyphs">10</text>
<text x="49.02" y="233.55" font-size="3.904" text-anchor="start" fill="#2a2a2a" stroke="#2a2a2a" stroke-width="0.1">3</text>
<line x1="38.32" y1="234.70" x2="41.62" y2="234.70" stroke="#2a2a2a" stroke-width="0.75" />
<g clip-path="url(#c1122_1903)">
<ellipse cx="133.90" cy="205.50" rx="5.0" ry="7.5" fill="#000" opacity="0.27" filter="url(#b2)"/>
<ellipse cx="135.20" cy="202.20" rx="3.3" ry="3.6" fill="#000" opacity="0.97" filter="url(#b1)"/>
<ellipse cx="144.30" cy="202.00" rx="2.5" ry="2.5" fill="#000" opacity="0.13" filter="url(#b3)"/>
</g>
<rect x="112.20" y="190.30" width="47" height="47" fill="none" stroke="#6e6e6e" stroke-width="1"/>
<line x1="141.00" y1="190.30" x2="141.00" y2="237.30" stroke="#6e6e6e" stroke-width="1" />
<line x1="112.20" y1="219.10" x2="159.20" y2="219.10" stroke="#6e6e6e" stroke-width="1" />
<line x1="112.20" y1="190.30" x2="112.20" y2="237.30" stroke="#4a4a4a" stroke-width="1" />
<line x1="112.20" y1="237.30" x2="159.20" y2="237.30" stroke="#505050" stroke-width="1" />
<line x1="111.20" y1="194.80" x2="112.60" y2="194.80" stroke="#111" stroke-width="1.0" />
<line x1="111.20" y1="206.55" x2="112.60" y2="206.55" stroke="#111" stroke-width="1.0" />
<line x1="111.20" y1="219.40" x2="112.60" y2="219.40" stroke="#111" stroke-width="1.0" />
<line x1="111.20" y1="226.60" x2="112.60" y2="226.60" stroke="#111" stroke-width="1.0" />
<line x1="111.20" y1="234.40" x2="112.60" y2="234.40" stroke="#111" stroke-width="1.0" />
<ellipse cx="112.00" cy="227.10" rx="0.8" ry="1.2" fill="#111"/>
<line x1="115.80" y1="236.90" x2="115.80" y2="238.30" stroke="#222" stroke-width="0.9" />
<line x1="123.20" y1="236.90" x2="123.20" y2="238.30" stroke="#222" stroke-width="0.9" />
<line x1="129.80" y1="236.90" x2="129.80" y2="238.30" stroke="#222" stroke-width="0.9" />
<line x1="143.70" y1="236.90" x2="143.70" y2="238.30" stroke="#222" stroke-width="0.9" />
<line x1="155.00" y1="236.90" x2="155.00" y2="238.30" stroke="#222" stroke-width="0.9" />
<ellipse cx="123.20" cy="238.00" rx="1.3" ry="0.8" fill="#111"/>
<text x="114.40" y="197.46" font-size="5.4" text-anchor="start" fill="#2a2a2a" stroke="#2a2a2a" stroke-width="0.08">96</text>
<text x="157.70" y="197.46" font-size="5.4" text-anchor="end" fill="#2a2a2a" stroke="#2a2a2a" stroke-width="0.08">4</text>
<text x="114.40" y="234.76" font-size="5.4" text-anchor="start" fill="#2a2a2a" stroke="#2a2a2a" stroke-width="0.08">0</text>
<text x="157.70" y="234.76" font-size="5.4" text-anchor="end" fill="#2a2a2a" stroke="#2a2a2a" stroke-width="0.08">0</text>
<g clip-path="url(#c1685_1903)">
<ellipse cx="187.70" cy="206.00" rx="4.5" ry="7.5" fill="#000" opacity="0.3" filter="url(#b0)"/>
<ellipse cx="188.10" cy="203.20" rx="2.9" ry="3.6" fill="#000" opacity="0.97" filter="url(#b1)"/>
</g>
<rect x="168.50" y="190.30" width="47" height="47" fill="none" stroke="#6e6e6e" stroke-width="1"/>
<line x1="193.20" y1="190.30" x2="193.20" y2="237.30" stroke="#6e6e6e" stroke-width="1" />
<line x1="168.50" y1="217.80" x2="215.50" y2="217.80" stroke="#6e6e6e" stroke-width="1" />
<line x1="168.50" y1="190.30" x2="168.50" y2="237.30" stroke="#4a4a4a" stroke-width="1" />
<line x1="168.50" y1="237.30" x2="215.50" y2="237.30" stroke="#505050" stroke-width="1" />
<line x1="167.50" y1="194.80" x2="168.90" y2="194.80" stroke="#111" stroke-width="1.0" />
<line x1="167.50" y1="206.55" x2="168.90" y2="206.55" stroke="#111" stroke-width="1.0" />
<line x1="167.50" y1="219.40" x2="168.90" y2="219.40" stroke="#111" stroke-width="1.0" />
<line x1="167.50" y1="226.60" x2="168.90" y2="226.60" stroke="#111" stroke-width="1.0" />
<line x1="167.50" y1="234.40" x2="168.90" y2="234.40" stroke="#111" stroke-width="1.0" />
<ellipse cx="168.30" cy="227.10" rx="0.8" ry="1.2" fill="#111"/>
<line x1="172.10" y1="236.90" x2="172.10" y2="238.30" stroke="#222" stroke-width="0.9" />
<line x1="179.50" y1="236.90" x2="179.50" y2="238.30" stroke="#222" stroke-width="0.9" />
<line x1="186.10" y1="236.90" x2="186.10" y2="238.30" stroke="#222" stroke-width="0.9" />
<line x1="200.00" y1="236.90" x2="200.00" y2="238.30" stroke="#222" stroke-width="0.9" />
<line x1="211.30" y1="236.90" x2="211.30" y2="238.30" stroke="#222" stroke-width="0.9" />
<ellipse cx="179.50" cy="238.00" rx="1.3" ry="0.8" fill="#111"/>
<text x="170.70" y="197.46" font-size="5.4" text-anchor="start" fill="#2a2a2a" stroke="#2a2a2a" stroke-width="0.08">98</text>
<text x="214.00" y="197.46" font-size="5.4" text-anchor="end" fill="#2a2a2a" stroke="#2a2a2a" stroke-width="0.08">2</text>
<text x="170.70" y="234.76" font-size="5.4" text-anchor="start" fill="#2a2a2a" stroke="#2a2a2a" stroke-width="0.08">0</text>
<text x="214.00" y="234.76" font-size="5.4" text-anchor="end" fill="#2a2a2a" stroke="#2a2a2a" stroke-width="0.08">0</text>
<g clip-path="url(#c2249_1903)">
<ellipse cx="245.60" cy="203.70" rx="5.0" ry="7.5" fill="#000" opacity="0.27" filter="url(#b2)"/>
<ellipse cx="246.90" cy="200.40" rx="3.3" ry="3.6" fill="#000" opacity="0.97" filter="url(#b1)"/>
<ellipse cx="258.20" cy="198.30" rx="2.5" ry="2.5" fill="#000" opacity="0.13" filter="url(#b3)"/>
</g>
<rect x="224.90" y="190.30" width="47" height="47" fill="none" stroke="#6e6e6e" stroke-width="1"/>
<line x1="253.70" y1="190.30" x2="253.70" y2="237.30" stroke="#6e6e6e" stroke-width="1" />
<line x1="224.90" y1="219.10" x2="271.90" y2="219.10" stroke="#6e6e6e" stroke-width="1" />
<line x1="224.90" y1="190.30" x2="224.90" y2="237.30" stroke="#4a4a4a" stroke-width="1" />
<line x1="224.90" y1="237.30" x2="271.90" y2="237.30" stroke="#505050" stroke-width="1" />
<line x1="223.90" y1="194.80" x2="225.30" y2="194.80" stroke="#111" stroke-width="1.0" />
<line x1="223.90" y1="206.55" x2="225.30" y2="206.55" stroke="#111" stroke-width="1.0" />
<line x1="223.90" y1="219.40" x2="225.30" y2="219.40" stroke="#111" stroke-width="1.0" />
<line x1="223.90" y1="226.60" x2="225.30" y2="226.60" stroke="#111" stroke-width="1.0" />
<line x1="223.90" y1="234.40" x2="225.30" y2="234.40" stroke="#111" stroke-width="1.0" />
<ellipse cx="224.70" cy="227.10" rx="0.8" ry="1.2" fill="#111"/>
<line x1="228.50" y1="236.90" x2="228.50" y2="238.30" stroke="#222" stroke-width="0.9" />
<line x1="235.90" y1="236.90" x2="235.90" y2="238.30" stroke="#222" stroke-width="0.9" />
<line x1="242.50" y1="236.90" x2="242.50" y2="238.30" stroke="#222" stroke-width="0.9" />
<line x1="256.40" y1="236.90" x2="256.40" y2="238.30" stroke="#222" stroke-width="0.9" />
<line x1="267.70" y1="236.90" x2="267.70" y2="238.30" stroke="#222" stroke-width="0.9" />
<ellipse cx="235.90" cy="238.00" rx="1.3" ry="0.8" fill="#111"/>
<text x="227.10" y="197.46" font-size="5.4" text-anchor="start" fill="#2a2a2a" stroke="#2a2a2a" stroke-width="0.08">96</text>
<text x="270.40" y="197.46" font-size="5.4" text-anchor="end" fill="#2a2a2a" stroke="#2a2a2a" stroke-width="0.08">4</text>
<text x="227.10" y="234.76" font-size="5.4" text-anchor="start" fill="#2a2a2a" stroke="#2a2a2a" stroke-width="0.08">0</text>
<text x="270.40" y="234.76" font-size="5.4" text-anchor="end" fill="#2a2a2a" stroke="#2a2a2a" stroke-width="0.08">0</text>
<g clip-path="url(#c2818_1903)">
<ellipse cx="301.40" cy="206.00" rx="4.5" ry="7.5" fill="#000" opacity="0.3" filter="url(#b0)"/>
<ellipse cx="301.80" cy="203.20" rx="2.9" ry="3.6" fill="#000" opacity="0.97" filter="url(#b1)"/>
</g>
<rect x="281.80" y="190.30" width="47" height="47" fill="none" stroke="#6e6e6e" stroke-width="1"/>
<line x1="306.50" y1="190.30" x2="306.50" y2="237.30" stroke="#6e6e6e" stroke-width="1" />
<line x1="281.80" y1="217.80" x2="328.80" y2="217.80" stroke="#6e6e6e" stroke-width="1" />
<line x1="281.80" y1="190.30" x2="281.80" y2="237.30" stroke="#4a4a4a" stroke-width="1" />
<line x1="281.80" y1="237.30" x2="328.80" y2="237.30" stroke="#505050" stroke-width="1" />
<line x1="280.80" y1="194.80" x2="282.20" y2="194.80" stroke="#111" stroke-width="1.0" />
<line x1="280.80" y1="206.55" x2="282.20" y2="206.55" stroke="#111" stroke-width="1.0" />
<line x1="280.80" y1="219.40" x2="282.20" y2="219.40" stroke="#111" stroke-width="1.0" />
<line x1="280.80" y1="226.60" x2="282.20" y2="226.60" stroke="#111" stroke-width="1.0" />
<line x1="280.80" y1="234.40" x2="282.20" y2="234.40" stroke="#111" stroke-width="1.0" />
<ellipse cx="281.60" cy="227.10" rx="0.8" ry="1.2" fill="#111"/>
<line x1="285.40" y1="236.90" x2="285.40" y2="238.30" stroke="#222" stroke-width="0.9" />
<line x1="292.80" y1="236.90" x2="292.80" y2="238.30" stroke="#222" stroke-width="0.9" />
<line x1="299.40" y1="236.90" x2="299.40" y2="238.30" stroke="#222" stroke-width="0.9" />
<line x1="313.30" y1="236.90" x2="313.30" y2="238.30" stroke="#222" stroke-width="0.9" />
<line x1="324.60" y1="236.90" x2="324.60" y2="238.30" stroke="#222" stroke-width="0.9" />
<ellipse cx="292.80" cy="238.00" rx="1.3" ry="0.8" fill="#111"/>
<text x="284.00" y="197.46" font-size="5.4" text-anchor="start" fill="#2a2a2a" stroke="#2a2a2a" stroke-width="0.08">97</text>
<text x="327.30" y="197.46" font-size="5.4" text-anchor="end" fill="#2a2a2a" stroke="#2a2a2a" stroke-width="0.08">3</text>
<text x="284.00" y="234.76" font-size="5.4" text-anchor="start" fill="#2a2a2a" stroke="#2a2a2a" stroke-width="0.08">0</text>
<text x="327.30" y="234.76" font-size="5.4" text-anchor="end" fill="#2a2a2a" stroke="#2a2a2a" stroke-width="0.08">0</text>
<g clip-path="url(#c3383_1903)">
<ellipse cx="359.30" cy="204.20" rx="5.0" ry="7.5" fill="#000" opacity="0.27" filter="url(#b2)"/>
<ellipse cx="360.60" cy="200.90" rx="3.3" ry="3.6" fill="#000" opacity="0.97" filter="url(#b1)"/>
<ellipse cx="370.50" cy="200.50" rx="2.5" ry="2.5" fill="#000" opacity="0.13" filter="url(#b3)"/>
</g>
<rect x="338.30" y="190.30" width="47" height="47" fill="none" stroke="#6e6e6e" stroke-width="1"/>
<line x1="367.10" y1="190.30" x2="367.10" y2="237.30" stroke="#6e6e6e" stroke-width="1" />
<line x1="338.30" y1="219.10" x2="385.30" y2="219.10" stroke="#6e6e6e" stroke-width="1" />
<line x1="338.30" y1="190.30" x2="338.30" y2="237.30" stroke="#4a4a4a" stroke-width="1" />
<line x1="338.30" y1="237.30" x2="385.30" y2="237.30" stroke="#505050" stroke-width="1" />
<line x1="337.30" y1="194.80" x2="338.70" y2="194.80" stroke="#111" stroke-width="1.0" />
<line x1="337.30" y1="206.55" x2="338.70" y2="206.55" stroke="#111" stroke-width="1.0" />
<line x1="337.30" y1="219.40" x2="338.70" y2="219.40" stroke="#111" stroke-width="1.0" />
<line x1="337.30" y1="226.60" x2="338.70" y2="226.60" stroke="#111" stroke-width="1.0" />
<line x1="337.30" y1="234.40" x2="338.70" y2="234.40" stroke="#111" stroke-width="1.0" />
<ellipse cx="338.10" cy="227.10" rx="0.8" ry="1.2" fill="#111"/>
<line x1="341.90" y1="236.90" x2="341.90" y2="238.30" stroke="#222" stroke-width="0.9" />
<line x1="349.30" y1="236.90" x2="349.30" y2="238.30" stroke="#222" stroke-width="0.9" />
<line x1="355.90" y1="236.90" x2="355.90" y2="238.30" stroke="#222" stroke-width="0.9" />
<line x1="369.80" y1="236.90" x2="369.80" y2="238.30" stroke="#222" stroke-width="0.9" />
<line x1="381.10" y1="236.90" x2="381.10" y2="238.30" stroke="#222" stroke-width="0.9" />
<ellipse cx="349.30" cy="238.00" rx="1.3" ry="0.8" fill="#111"/>
<text x="340.50" y="197.46" font-size="5.4" text-anchor="start" fill="#2a2a2a" stroke="#2a2a2a" stroke-width="0.08">97</text>
<text x="383.80" y="197.46" font-size="5.4" text-anchor="end" fill="#2a2a2a" stroke="#2a2a2a" stroke-width="0.08">3</text>
<text x="340.50" y="234.76" font-size="5.4" text-anchor="start" fill="#2a2a2a" stroke="#2a2a2a" stroke-width="0.08">0</text>
<text x="383.80" y="234.76" font-size="5.4" text-anchor="end" fill="#2a2a2a" stroke="#2a2a2a" stroke-width="0.08">0</text>
<g clip-path="url(#c3958_1903)">
<ellipse cx="415.40" cy="206.00" rx="4.5" ry="7.5" fill="#000" opacity="0.3" filter="url(#b0)"/>
<ellipse cx="415.80" cy="203.20" rx="2.9" ry="3.6" fill="#000" opacity="0.97" filter="url(#b1)"/>
</g>
<rect x="395.80" y="190.30" width="47" height="47" fill="none" stroke="#6e6e6e" stroke-width="1"/>
<line x1="420.50" y1="190.30" x2="420.50" y2="237.30" stroke="#6e6e6e" stroke-width="1" />
<line x1="395.80" y1="217.80" x2="442.80" y2="217.80" stroke="#6e6e6e" stroke-width="1" />
<line x1="395.80" y1="190.30" x2="395.80" y2="237.30" stroke="#4a4a4a" stroke-width="1" />
<line x1="395.80" y1="237.30" x2="442.80" y2="237.30" stroke="#505050" stroke-width="1" />
<line x1="394.80" y1="194.80" x2="396.20" y2="194.80" stroke="#111" stroke-width="1.0" />
<line x1="394.80" y1="206.55" x2="396.20" y2="206.55" stroke="#111" stroke-width="1.0" />
<line x1="394.80" y1="219.40" x2="396.20" y2="219.40" stroke="#111" stroke-width="1.0" />
<line x1="394.80" y1="226.60" x2="396.20" y2="226.60" stroke="#111" stroke-width="1.0" />
<line x1="394.80" y1="234.40" x2="396.20" y2="234.40" stroke="#111" stroke-width="1.0" />
<ellipse cx="395.60" cy="227.10" rx="0.8" ry="1.2" fill="#111"/>
<line x1="399.40" y1="236.90" x2="399.40" y2="238.30" stroke="#222" stroke-width="0.9" />
<line x1="406.80" y1="236.90" x2="406.80" y2="238.30" stroke="#222" stroke-width="0.9" />
<line x1="413.40" y1="236.90" x2="413.40" y2="238.30" stroke="#222" stroke-width="0.9" />
<line x1="427.30" y1="236.90" x2="427.30" y2="238.30" stroke="#222" stroke-width="0.9" />
<line x1="438.60" y1="236.90" x2="438.60" y2="238.30" stroke="#222" stroke-width="0.9" />
<ellipse cx="406.80" cy="238.00" rx="1.3" ry="0.8" fill="#111"/>
<text x="398.00" y="197.46" font-size="5.4" text-anchor="start" fill="#2a2a2a" stroke="#2a2a2a" stroke-width="0.08">97</text>
<text x="441.30" y="197.46" font-size="5.4" text-anchor="end" fill="#2a2a2a" stroke="#2a2a2a" stroke-width="0.08">3</text>
<text x="398.00" y="234.76" font-size="5.4" text-anchor="start" fill="#2a2a2a" stroke="#2a2a2a" stroke-width="0.08">0</text>
<text x="441.30" y="234.76" font-size="5.4" text-anchor="end" fill="#2a2a2a" stroke="#2a2a2a" stroke-width="0.08">0</text>
<g clip-path="url(#c4519_1903)">
<ellipse cx="473.80" cy="203.50" rx="5.0" ry="7.5" fill="#000" opacity="0.27" filter="url(#b2)"/>
<ellipse cx="475.10" cy="200.20" rx="3.3" ry="3.6" fill="#000" opacity="0.97" filter="url(#b1)"/>
<ellipse cx="485.00" cy="201.00" rx="2.5" ry="2.5" fill="#000" opacity="0.13" filter="url(#b3)"/>
</g>
<rect x="451.90" y="190.30" width="47" height="47" fill="none" stroke="#6e6e6e" stroke-width="1"/>
<line x1="480.70" y1="190.30" x2="480.70" y2="237.30" stroke="#6e6e6e" stroke-width="1" />
<line x1="451.90" y1="219.10" x2="498.90" y2="219.10" stroke="#6e6e6e" stroke-width="1" />
<line x1="451.90" y1="190.30" x2="451.90" y2="237.30" stroke="#4a4a4a" stroke-width="1" />
<line x1="451.90" y1="237.30" x2="498.90" y2="237.30" stroke="#505050" stroke-width="1" />
<line x1="450.90" y1="194.80" x2="452.30" y2="194.80" stroke="#111" stroke-width="1.0" />
<line x1="450.90" y1="206.55" x2="452.30" y2="206.55" stroke="#111" stroke-width="1.0" />
<line x1="450.90" y1="219.40" x2="452.30" y2="219.40" stroke="#111" stroke-width="1.0" />
<line x1="450.90" y1="226.60" x2="452.30" y2="226.60" stroke="#111" stroke-width="1.0" />
<line x1="450.90" y1="234.40" x2="452.30" y2="234.40" stroke="#111" stroke-width="1.0" />
<ellipse cx="451.70" cy="227.10" rx="0.8" ry="1.2" fill="#111"/>
<line x1="455.50" y1="236.90" x2="455.50" y2="238.30" stroke="#222" stroke-width="0.9" />
<line x1="462.90" y1="236.90" x2="462.90" y2="238.30" stroke="#222" stroke-width="0.9" />
<line x1="469.50" y1="236.90" x2="469.50" y2="238.30" stroke="#222" stroke-width="0.9" />
<line x1="483.40" y1="236.90" x2="483.40" y2="238.30" stroke="#222" stroke-width="0.9" />
<line x1="494.70" y1="236.90" x2="494.70" y2="238.30" stroke="#222" stroke-width="0.9" />
<ellipse cx="462.90" cy="238.00" rx="1.3" ry="0.8" fill="#111"/>
<text x="454.10" y="197.46" font-size="5.4" text-anchor="start" fill="#2a2a2a" stroke="#2a2a2a" stroke-width="0.08">95</text>
<text x="497.40" y="197.46" font-size="5.4" text-anchor="end" fill="#2a2a2a" stroke="#2a2a2a" stroke-width="0.08">5</text>
<text x="454.10" y="234.76" font-size="5.4" text-anchor="start" fill="#2a2a2a" stroke="#2a2a2a" stroke-width="0.08">0</text>
<text x="497.40" y="234.76" font-size="5.4" text-anchor="end" fill="#2a2a2a" stroke="#2a2a2a" stroke-width="0.08">0</text>
<g clip-path="url(#c558_2464)">
<ellipse cx="73.70" cy="266.60" rx="4.8" ry="7.0" fill="#000" opacity="0.3" filter="url(#b4)"/>
<ellipse cx="74.70" cy="262.60" rx="3.6" ry="5.0" fill="#000" opacity="0.97" filter="url(#b1)"/>
<ellipse cx="73.70" cy="267.10" rx="2.6" ry="2.6" fill="#000" opacity="0.4" filter="url(#b5)"/>
<ellipse cx="83.35" cy="261.80" rx="7.649999999999999" ry="2.7" fill="#000" opacity="0.3" filter="url(#b6)"/>
<ellipse cx="82.50" cy="261.80" rx="3.0" ry="2.4" fill="#000" opacity="0.4" filter="url(#b5)"/>
</g>
<rect x="55.80" y="246.40" width="47" height="47" fill="none" stroke="#6e6e6e" stroke-width="1"/>
<line x1="80.50" y1="246.40" x2="80.50" y2="293.40" stroke="#6e6e6e" stroke-width="1" />
<line x1="55.80" y1="273.90" x2="102.80" y2="273.90" stroke="#6e6e6e" stroke-width="1" />
<line x1="55.80" y1="246.40" x2="55.80" y2="293.40" stroke="#4a4a4a" stroke-width="1" />
<line x1="55.80" y1="293.40" x2="102.80" y2="293.40" stroke="#505050" stroke-width="1" />
<line x1="54.80" y1="250.90" x2="56.20" y2="250.90" stroke="#111" stroke-width="1.0" />
<line x1="54.80" y1="262.65" x2="56.20" y2="262.65" stroke="#111" stroke-width="1.0" />
<line x1="54.80" y1="275.50" x2="56.20" y2="275.50" stroke="#111" stroke-width="1.0" />
<line x1="54.80" y1="282.70" x2="56.20" y2="282.70" stroke="#111" stroke-width="1.0" />
<line x1="54.80" y1="290.50" x2="56.20" y2="290.50" stroke="#111" stroke-width="1.0" />
<ellipse cx="55.60" cy="283.20" rx="0.8" ry="1.2" fill="#111"/>
<line x1="59.40" y1="293.00" x2="59.40" y2="294.40" stroke="#222" stroke-width="0.9" />
<line x1="66.80" y1="293.00" x2="66.80" y2="294.40" stroke="#222" stroke-width="0.9" />
<line x1="73.40" y1="293.00" x2="73.40" y2="294.40" stroke="#222" stroke-width="0.9" />
<line x1="87.30" y1="293.00" x2="87.30" y2="294.40" stroke="#222" stroke-width="0.9" />
<line x1="98.60" y1="293.00" x2="98.60" y2="294.40" stroke="#222" stroke-width="0.9" />
<ellipse cx="66.80" cy="294.10" rx="1.3" ry="0.8" fill="#111"/>
<text x="58.00" y="253.56" font-size="5.4" text-anchor="start" fill="#2a2a2a" stroke="#2a2a2a" stroke-width="0.08">83</text>
<text x="101.30" y="253.56" font-size="5.4" text-anchor="end" fill="#2a2a2a" stroke="#2a2a2a" stroke-width="0.08">17</text>
<text x="58.00" y="290.86" font-size="5.4" text-anchor="start" fill="#2a2a2a" stroke="#2a2a2a" stroke-width="0.08">0</text>
<text x="101.30" y="290.86" font-size="5.4" text-anchor="end" fill="#2a2a2a" stroke="#2a2a2a" stroke-width="0.08">0</text>
<text x="45.70" y="253.00" font-size="6.1" text-anchor="middle" fill="#2a2a2a" stroke="#2a2a2a" stroke-width="0.12" textLength="6.35" lengthAdjust="spacingAndGlyphs">10</text>
<text x="49.02" y="250.05" font-size="3.904" text-anchor="start" fill="#2a2a2a" stroke="#2a2a2a" stroke-width="0.1">5</text>
<text x="45.70" y="264.75" font-size="6.1" text-anchor="middle" fill="#2a2a2a" stroke="#2a2a2a" stroke-width="0.12" textLength="6.35" lengthAdjust="spacingAndGlyphs">10</text>
<text x="49.02" y="261.80" font-size="3.904" text-anchor="start" fill="#2a2a2a" stroke="#2a2a2a" stroke-width="0.1">4</text>
<text x="45.70" y="277.60" font-size="6.1" text-anchor="middle" fill="#2a2a2a" stroke="#2a2a2a" stroke-width="0.12" textLength="6.35" lengthAdjust="spacingAndGlyphs">10</text>
<text x="49.02" y="274.65" font-size="3.904" text-anchor="start" fill="#2a2a2a" stroke="#2a2a2a" stroke-width="0.1">3</text>
<text x="50.30" y="284.74" font-size="5.9" text-anchor="end" fill="#2a2a2a" stroke="#2a2a2a" stroke-width="0.12" textLength="3.00" lengthAdjust="spacingAndGlyphs">0</text>
<text x="45.70" y="292.60" font-size="6.1" text-anchor="middle" fill="#2a2a2a" stroke="#2a2a2a" stroke-width="0.12" textLength="6.35" lengthAdjust="spacingAndGlyphs">10</text>
<text x="49.02" y="289.65" font-size="3.904" text-anchor="start" fill="#2a2a2a" stroke="#2a2a2a" stroke-width="0.1">3</text>
<line x1="38.32" y1="290.80" x2="41.62" y2="290.80" stroke="#2a2a2a" stroke-width="0.75" />
<text x="59.90" y="302.10" font-size="6.1" text-anchor="middle" fill="#2a2a2a" stroke="#2a2a2a" stroke-width="0.12" textLength="6.35" lengthAdjust="spacingAndGlyphs">10</text>
<text x="63.22" y="299.15" font-size="3.904" text-anchor="start" fill="#2a2a2a" stroke="#2a2a2a" stroke-width="0.1">3</text>
<line x1="52.52" y1="300.30" x2="55.83" y2="300.30" stroke="#2a2a2a" stroke-width="0.75" />
<text x="66.50" y="302.07" font-size="6.0" text-anchor="middle" fill="#2a2a2a" stroke="#2a2a2a" stroke-width="0.12" textLength="3.00" lengthAdjust="spacingAndGlyphs">0</text>
<text x="72.20" y="302.10" font-size="6.1" text-anchor="middle" fill="#2a2a2a" stroke="#2a2a2a" stroke-width="0.12" textLength="6.35" lengthAdjust="spacingAndGlyphs">10</text>
<text x="75.52" y="299.15" font-size="3.904" text-anchor="start" fill="#2a2a2a" stroke="#2a2a2a" stroke-width="0.1">3</text>
<text x="86.30" y="302.10" font-size="6.1" text-anchor="middle" fill="#2a2a2a" stroke="#2a2a2a" stroke-width="0.12" textLength="6.35" lengthAdjust="spacingAndGlyphs">10</text>
<text x="89.62" y="299.15" font-size="3.904" text-anchor="start" fill="#2a2a2a" stroke="#2a2a2a" stroke-width="0.1">4</text>
<text x="97.60" y="302.10" font-size="6.1" text-anchor="middle" fill="#2a2a2a" stroke="#2a2a2a" stroke-width="0.12" textLength="6.35" lengthAdjust="spacingAndGlyphs">10</text>
<text x="100.92" y="299.15" font-size="3.904" text-anchor="start" fill="#2a2a2a" stroke="#2a2a2a" stroke-width="0.1">5</text>
<g clip-path="url(#c1122_2464)">
<ellipse cx="133.50" cy="262.70" rx="7.5" ry="5.0" fill="#000" opacity="0.3" filter="url(#b7)"/>
<ellipse cx="131.50" cy="261.20" rx="3.4" ry="3.0" fill="#000" opacity="0.5" filter="url(#b8)"/>
<ellipse cx="136.50" cy="259.20" rx="3.4" ry="3.4" fill="#000" opacity="0.88" filter="url(#b1)"/>
<ellipse cx="146.20" cy="259.90" rx="3.6" ry="4.4" fill="#000" opacity="0.97" filter="url(#b1)"/>
<ellipse cx="141.35" cy="259.55" rx="3.0" ry="2.6" fill="#000" opacity="0.7040000000000001" filter="url(#b1)"/>
<ellipse cx="141.35" cy="263.05" rx="3.5" ry="2.5" fill="#000" opacity="0.25" filter="url(#b3)"/>
</g>
<rect x="112.20" y="246.40" width="47" height="47" fill="none" stroke="#6e6e6e" stroke-width="1"/>
<line x1="141.00" y1="246.40" x2="141.00" y2="293.40" stroke="#6e6e6e" stroke-width="1" />
<line x1="112.20" y1="275.20" x2="159.20" y2="275.20" stroke="#6e6e6e" stroke-width="1" />
<line x1="112.20" y1="246.40" x2="112.20" y2="293.40" stroke="#4a4a4a" stroke-width="1" />
<line x1="112.20" y1="293.40" x2="159.20" y2="293.40" stroke="#505050" stroke-width="1" />
<line x1="111.20" y1="250.90" x2="112.60" y2="250.90" stroke="#111" stroke-width="1.0" />
<line x1="111.20" y1="262.65" x2="112.60" y2="262.65" stroke="#111" stroke-width="1.0" />
<line x1="111.20" y1="275.50" x2="112.60" y2="275.50" stroke="#111" stroke-width="1.0" />
<line x1="111.20" y1="282.70" x2="112.60" y2="282.70" stroke="#111" stroke-width="1.0" />
<line x1="111.20" y1="290.50" x2="112.60" y2="290.50" stroke="#111" stroke-width="1.0" />
<ellipse cx="112.00" cy="283.20" rx="0.8" ry="1.2" fill="#111"/>
<line x1="115.80" y1="293.00" x2="115.80" y2="294.40" stroke="#222" stroke-width="0.9" />
<line x1="123.20" y1="293.00" x2="123.20" y2="294.40" stroke="#222" stroke-width="0.9" />
<line x1="129.80" y1="293.00" x2="129.80" y2="294.40" stroke="#222" stroke-width="0.9" />
<line x1="143.70" y1="293.00" x2="143.70" y2="294.40" stroke="#222" stroke-width="0.9" />
<line x1="155.00" y1="293.00" x2="155.00" y2="294.40" stroke="#222" stroke-width="0.9" />
<ellipse cx="123.20" cy="294.10" rx="1.3" ry="0.8" fill="#111"/>
<text x="114.40" y="253.56" font-size="5.4" text-anchor="start" fill="#2a2a2a" stroke="#2a2a2a" stroke-width="0.08">42</text>
<text x="157.70" y="253.56" font-size="5.4" text-anchor="end" fill="#2a2a2a" stroke="#2a2a2a" stroke-width="0.08">58</text>
<text x="114.40" y="290.86" font-size="5.4" text-anchor="start" fill="#2a2a2a" stroke="#2a2a2a" stroke-width="0.08">0</text>
<text x="157.70" y="290.86" font-size="5.4" text-anchor="end" fill="#2a2a2a" stroke="#2a2a2a" stroke-width="0.08">0</text>
<text x="116.30" y="302.10" font-size="6.1" text-anchor="middle" fill="#2a2a2a" stroke="#2a2a2a" stroke-width="0.12" textLength="6.35" lengthAdjust="spacingAndGlyphs">10</text>
<text x="119.62" y="299.15" font-size="3.904" text-anchor="start" fill="#2a2a2a" stroke="#2a2a2a" stroke-width="0.1">3</text>
<line x1="108.92" y1="300.30" x2="112.22" y2="300.30" stroke="#2a2a2a" stroke-width="0.75" />
<text x="122.90" y="302.07" font-size="6.0" text-anchor="middle" fill="#2a2a2a" stroke="#2a2a2a" stroke-width="0.12" textLength="3.00" lengthAdjust="spacingAndGlyphs">0</text>
<text x="128.60" y="302.10" font-size="6.1" text-anchor="middle" fill="#2a2a2a" stroke="#2a2a2a" stroke-width="0.12" textLength="6.35" lengthAdjust="spacingAndGlyphs">10</text>
<text x="131.93" y="299.15" font-size="3.904" text-anchor="start" fill="#2a2a2a" stroke="#2a2a2a" stroke-width="0.1">3</text>
<text x="142.70" y="302.10" font-size="6.1" text-anchor="middle" fill="#2a2a2a" stroke="#2a2a2a" stroke-width="0.12" textLength="6.35" lengthAdjust="spacingAndGlyphs">10</text>
<text x="146.03" y="299.15" font-size="3.904" text-anchor="start" fill="#2a2a2a" stroke="#2a2a2a" stroke-width="0.1">4</text>
<text x="154.00" y="302.10" font-size="6.1" text-anchor="middle" fill="#2a2a2a" stroke="#2a2a2a" stroke-width="0.12" textLength="6.35" lengthAdjust="spacingAndGlyphs">10</text>
<text x="157.33" y="299.15" font-size="3.904" text-anchor="start" fill="#2a2a2a" stroke="#2a2a2a" stroke-width="0.1">5</text>
<g clip-path="url(#c1685_2464)">
<ellipse cx="187.80" cy="264.20" rx="4.8" ry="7.0" fill="#000" opacity="0.3" filter="url(#b4)"/>
<ellipse cx="188.80" cy="260.20" rx="3.6" ry="4.0" fill="#000" opacity="0.97" filter="url(#b1)"/>
<ellipse cx="187.80" cy="264.70" rx="2.6" ry="2.6" fill="#000" opacity="0.4" filter="url(#b5)"/>
<ellipse cx="197.40" cy="260.20" rx="7.599999999999994" ry="2.7" fill="#000" opacity="0.3" filter="url(#b6)"/>
<ellipse cx="195.50" cy="260.20" rx="3.0" ry="2.4" fill="#000" opacity="0.4" filter="url(#b5)"/>
</g>
<rect x="168.50" y="246.40" width="47" height="47" fill="none" stroke="#6e6e6e" stroke-width="1"/>
<line x1="193.20" y1="246.40" x2="193.20" y2="293.40" stroke="#6e6e6e" stroke-width="1" />
<line x1="168.50" y1="273.90" x2="215.50" y2="273.90" stroke="#6e6e6e" stroke-width="1" />
<line x1="168.50" y1="246.40" x2="168.50" y2="293.40" stroke="#4a4a4a" stroke-width="1" />
<line x1="168.50" y1="293.40" x2="215.50" y2="293.40" stroke="#505050" stroke-width="1" />
<line x1="167.50" y1="250.90" x2="168.90" y2="250.90" stroke="#111" stroke-width="1.0" />
<line x1="167.50" y1="262.65" x2="168.90" y2="262.65" stroke="#111" stroke-width="1.0" />
<line x1="167.50" y1="275.50" x2="168.90" y2="275.50" stroke="#111" stroke-width="1.0" />
<line x1="167.50" y1="282.70" x2="168.90" y2="282.70" stroke="#111" stroke-width="1.0" />
<line x1="167.50" y1="290.50" x2="168.90" y2="290.50" stroke="#111" stroke-width="1.0" />
<ellipse cx="168.30" cy="283.20" rx="0.8" ry="1.2" fill="#111"/>
<line x1="172.10" y1="293.00" x2="172.10" y2="294.40" stroke="#222" stroke-width="0.9" />
<line x1="179.50" y1="293.00" x2="179.50" y2="294.40" stroke="#222" stroke-width="0.9" />
<line x1="186.10" y1="293.00" x2="186.10" y2="294.40" stroke="#222" stroke-width="0.9" />
<line x1="200.00" y1="293.00" x2="200.00" y2="294.40" stroke="#222" stroke-width="0.9" />
<line x1="211.30" y1="293.00" x2="211.30" y2="294.40" stroke="#222" stroke-width="0.9" />
<ellipse cx="179.50" cy="294.10" rx="1.3" ry="0.8" fill="#111"/>
<text x="170.70" y="253.56" font-size="5.4" text-anchor="start" fill="#2a2a2a" stroke="#2a2a2a" stroke-width="0.08">74</text>
<text x="214.00" y="253.56" font-size="5.4" text-anchor="end" fill="#2a2a2a" stroke="#2a2a2a" stroke-width="0.08">26</text>
<text x="170.70" y="290.86" font-size="5.4" text-anchor="start" fill="#2a2a2a" stroke="#2a2a2a" stroke-width="0.08">0</text>
<text x="214.00" y="290.86" font-size="5.4" text-anchor="end" fill="#2a2a2a" stroke="#2a2a2a" stroke-width="0.08">0</text>
<text x="172.60" y="302.10" font-size="6.1" text-anchor="middle" fill="#2a2a2a" stroke="#2a2a2a" stroke-width="0.12" textLength="6.35" lengthAdjust="spacingAndGlyphs">10</text>
<text x="175.93" y="299.15" font-size="3.904" text-anchor="start" fill="#2a2a2a" stroke="#2a2a2a" stroke-width="0.1">3</text>
<line x1="165.22" y1="300.30" x2="168.52" y2="300.30" stroke="#2a2a2a" stroke-width="0.75" />
<text x="179.20" y="302.07" font-size="6.0" text-anchor="middle" fill="#2a2a2a" stroke="#2a2a2a" stroke-width="0.12" textLength="3.00" lengthAdjust="spacingAndGlyphs">0</text>
<text x="184.90" y="302.10" font-size="6.1" text-anchor="middle" fill="#2a2a2a" stroke="#2a2a2a" stroke-width="0.12" textLength="6.35" lengthAdjust="spacingAndGlyphs">10</text>
<text x="188.23" y="299.15" font-size="3.904" text-anchor="start" fill="#2a2a2a" stroke="#2a2a2a" stroke-width="0.1">3</text>
<text x="199.00" y="302.10" font-size="6.1" text-anchor="middle" fill="#2a2a2a" stroke="#2a2a2a" stroke-width="0.12" textLength="6.35" lengthAdjust="spacingAndGlyphs">10</text>
<text x="202.33" y="299.15" font-size="3.904" text-anchor="start" fill="#2a2a2a" stroke="#2a2a2a" stroke-width="0.1">4</text>
<text x="210.30" y="302.10" font-size="6.1" text-anchor="middle" fill="#2a2a2a" stroke="#2a2a2a" stroke-width="0.12" textLength="6.35" lengthAdjust="spacingAndGlyphs">10</text>
<text x="213.63" y="299.15" font-size="3.904" text-anchor="start" fill="#2a2a2a" stroke="#2a2a2a" stroke-width="0.1">5</text>
<g clip-path="url(#c2249_2464)">
<ellipse cx="247.00" cy="261.00" rx="7.0" ry="5.0" fill="#000" opacity="0.3" filter="url(#b7)"/>
<ellipse cx="245.00" cy="259.50" rx="3.4" ry="3.0" fill="#000" opacity="0.5" filter="url(#b8)"/>
<ellipse cx="250.40" cy="258.50" rx="3.4" ry="3.4" fill="#000" opacity="0.88" filter="url(#b1)"/>
<ellipse cx="259.20" cy="257.30" rx="3.6" ry="4.4" fill="#000" opacity="0.97" filter="url(#b1)"/>
<ellipse cx="254.80" cy="257.90" rx="3.0" ry="2.6" fill="#000" opacity="0.7040000000000001" filter="url(#b1)"/>
<ellipse cx="254.80" cy="261.40" rx="3.5" ry="2.5" fill="#000" opacity="0.25" filter="url(#b3)"/>
</g>
<rect x="224.90" y="246.40" width="47" height="47" fill="none" stroke="#6e6e6e" stroke-width="1"/>
<line x1="253.70" y1="246.40" x2="253.70" y2="293.40" stroke="#6e6e6e" stroke-width="1" />
<line x1="224.90" y1="275.20" x2="271.90" y2="275.20" stroke="#6e6e6e" stroke-width="1" />
<line x1="224.90" y1="246.40" x2="224.90" y2="293.40" stroke="#4a4a4a" stroke-width="1" />
<line x1="224.90" y1="293.40" x2="271.90" y2="293.40" stroke="#505050" stroke-width="1" />
<line x1="223.90" y1="250.90" x2="225.30" y2="250.90" stroke="#111" stroke-width="1.0" />
<line x1="223.90" y1="262.65" x2="225.30" y2="262.65" stroke="#111" stroke-width="1.0" />
<line x1="223.90" y1="275.50" x2="225.30" y2="275.50" stroke="#111" stroke-width="1.0" />
<line x1="223.90" y1="282.70" x2="225.30" y2="282.70" stroke="#111" stroke-width="1.0" />
<line x1="223.90" y1="290.50" x2="225.30" y2="290.50" stroke="#111" stroke-width="1.0" />
<ellipse cx="224.70" cy="283.20" rx="0.8" ry="1.2" fill="#111"/>
<line x1="228.50" y1="293.00" x2="228.50" y2="294.40" stroke="#222" stroke-width="0.9" />
<line x1="235.90" y1="293.00" x2="235.90" y2="294.40" stroke="#222" stroke-width="0.9" />
<line x1="242.50" y1="293.00" x2="242.50" y2="294.40" stroke="#222" stroke-width="0.9" />
<line x1="256.40" y1="293.00" x2="256.40" y2="294.40" stroke="#222" stroke-width="0.9" />
<line x1="267.70" y1="293.00" x2="267.70" y2="294.40" stroke="#222" stroke-width="0.9" />
<ellipse cx="235.90" cy="294.10" rx="1.3" ry="0.8" fill="#111"/>
<text x="227.10" y="253.56" font-size="5.4" text-anchor="start" fill="#2a2a2a" stroke="#2a2a2a" stroke-width="0.08">44</text>
<text x="270.40" y="253.56" font-size="5.4" text-anchor="end" fill="#2a2a2a" stroke="#2a2a2a" stroke-width="0.08">56</text>
<text x="227.10" y="290.86" font-size="5.4" text-anchor="start" fill="#2a2a2a" stroke="#2a2a2a" stroke-width="0.08">0</text>
<text x="270.40" y="290.86" font-size="5.4" text-anchor="end" fill="#2a2a2a" stroke="#2a2a2a" stroke-width="0.08">0</text>
<text x="229.00" y="302.10" font-size="6.1" text-anchor="middle" fill="#2a2a2a" stroke="#2a2a2a" stroke-width="0.12" textLength="6.35" lengthAdjust="spacingAndGlyphs">10</text>
<text x="232.33" y="299.15" font-size="3.904" text-anchor="start" fill="#2a2a2a" stroke="#2a2a2a" stroke-width="0.1">3</text>
<line x1="221.62" y1="300.30" x2="224.92" y2="300.30" stroke="#2a2a2a" stroke-width="0.75" />
<text x="235.60" y="302.07" font-size="6.0" text-anchor="middle" fill="#2a2a2a" stroke="#2a2a2a" stroke-width="0.12" textLength="3.00" lengthAdjust="spacingAndGlyphs">0</text>
<text x="241.30" y="302.10" font-size="6.1" text-anchor="middle" fill="#2a2a2a" stroke="#2a2a2a" stroke-width="0.12" textLength="6.35" lengthAdjust="spacingAndGlyphs">10</text>
<text x="244.63" y="299.15" font-size="3.904" text-anchor="start" fill="#2a2a2a" stroke="#2a2a2a" stroke-width="0.1">3</text>
<text x="255.40" y="302.10" font-size="6.1" text-anchor="middle" fill="#2a2a2a" stroke="#2a2a2a" stroke-width="0.12" textLength="6.35" lengthAdjust="spacingAndGlyphs">10</text>
<text x="258.72" y="299.15" font-size="3.904" text-anchor="start" fill="#2a2a2a" stroke="#2a2a2a" stroke-width="0.1">4</text>
<text x="266.70" y="302.10" font-size="6.1" text-anchor="middle" fill="#2a2a2a" stroke="#2a2a2a" stroke-width="0.12" textLength="6.35" lengthAdjust="spacingAndGlyphs">10</text>
<text x="270.02" y="299.15" font-size="3.904" text-anchor="start" fill="#2a2a2a" stroke="#2a2a2a" stroke-width="0.1">5</text>
<g clip-path="url(#c2818_2464)">
<ellipse cx="300.90" cy="264.60" rx="4.8" ry="7.0" fill="#000" opacity="0.3" filter="url(#b4)"/>
<ellipse cx="301.90" cy="260.60" rx="3.6" ry="4.0" fill="#000" opacity="0.97" filter="url(#b1)"/>
<ellipse cx="300.90" cy="265.10" rx="2.6" ry="2.6" fill="#000" opacity="0.4" filter="url(#b5)"/>
<ellipse cx="311.45" cy="259.60" rx="8.550000000000011" ry="2.7" fill="#000" opacity="0.3" filter="url(#b6)"/>
<ellipse cx="309.50" cy="259.60" rx="3.0" ry="2.4" fill="#000" opacity="0.4" filter="url(#b5)"/>
</g>
<rect x="281.80" y="246.40" width="47" height="47" fill="none" stroke="#6e6e6e" stroke-width="1"/>
<line x1="306.50" y1="246.40" x2="306.50" y2="293.40" stroke="#6e6e6e" stroke-width="1" />
<line x1="281.80" y1="273.90" x2="328.80" y2="273.90" stroke="#6e6e6e" stroke-width="1" />
<line x1="281.80" y1="246.40" x2="281.80" y2="293.40" stroke="#4a4a4a" stroke-width="1" />
<line x1="281.80" y1="293.40" x2="328.80" y2="293.40" stroke="#505050" stroke-width="1" />
<line x1="280.80" y1="250.90" x2="282.20" y2="250.90" stroke="#111" stroke-width="1.0" />
<line x1="280.80" y1="262.65" x2="282.20" y2="262.65" stroke="#111" stroke-width="1.0" />
<line x1="280.80" y1="275.50" x2="282.20" y2="275.50" stroke="#111" stroke-width="1.0" />
<line x1="280.80" y1="282.70" x2="282.20" y2="282.70" stroke="#111" stroke-width="1.0" />
<line x1="280.80" y1="290.50" x2="282.20" y2="290.50" stroke="#111" stroke-width="1.0" />
<ellipse cx="281.60" cy="283.20" rx="0.8" ry="1.2" fill="#111"/>
<line x1="285.40" y1="293.00" x2="285.40" y2="294.40" stroke="#222" stroke-width="0.9" />
<line x1="292.80" y1="293.00" x2="292.80" y2="294.40" stroke="#222" stroke-width="0.9" />
<line x1="299.40" y1="293.00" x2="299.40" y2="294.40" stroke="#222" stroke-width="0.9" />
<line x1="313.30" y1="293.00" x2="313.30" y2="294.40" stroke="#222" stroke-width="0.9" />
<line x1="324.60" y1="293.00" x2="324.60" y2="294.40" stroke="#222" stroke-width="0.9" />
<ellipse cx="292.80" cy="294.10" rx="1.3" ry="0.8" fill="#111"/>
<text x="284.00" y="253.56" font-size="5.4" text-anchor="start" fill="#2a2a2a" stroke="#2a2a2a" stroke-width="0.08">80</text>
<text x="327.30" y="253.56" font-size="5.4" text-anchor="end" fill="#2a2a2a" stroke="#2a2a2a" stroke-width="0.08">20</text>
<text x="284.00" y="290.86" font-size="5.4" text-anchor="start" fill="#2a2a2a" stroke="#2a2a2a" stroke-width="0.08">0</text>
<text x="327.30" y="290.86" font-size="5.4" text-anchor="end" fill="#2a2a2a" stroke="#2a2a2a" stroke-width="0.08">0</text>
<text x="285.90" y="302.10" font-size="6.1" text-anchor="middle" fill="#2a2a2a" stroke="#2a2a2a" stroke-width="0.12" textLength="6.35" lengthAdjust="spacingAndGlyphs">10</text>
<text x="289.23" y="299.15" font-size="3.904" text-anchor="start" fill="#2a2a2a" stroke="#2a2a2a" stroke-width="0.1">3</text>
<line x1="278.53" y1="300.30" x2="281.83" y2="300.30" stroke="#2a2a2a" stroke-width="0.75" />
<text x="292.50" y="302.07" font-size="6.0" text-anchor="middle" fill="#2a2a2a" stroke="#2a2a2a" stroke-width="0.12" textLength="3.00" lengthAdjust="spacingAndGlyphs">0</text>
<text x="298.20" y="302.10" font-size="6.1" text-anchor="middle" fill="#2a2a2a" stroke="#2a2a2a" stroke-width="0.12" textLength="6.35" lengthAdjust="spacingAndGlyphs">10</text>
<text x="301.52" y="299.15" font-size="3.904" text-anchor="start" fill="#2a2a2a" stroke="#2a2a2a" stroke-width="0.1">3</text>
<text x="312.30" y="302.10" font-size="6.1" text-anchor="middle" fill="#2a2a2a" stroke="#2a2a2a" stroke-width="0.12" textLength="6.35" lengthAdjust="spacingAndGlyphs">10</text>
<text x="315.62" y="299.15" font-size="3.904" text-anchor="start" fill="#2a2a2a" stroke="#2a2a2a" stroke-width="0.1">4</text>
<text x="323.60" y="302.10" font-size="6.1" text-anchor="middle" fill="#2a2a2a" stroke="#2a2a2a" stroke-width="0.12" textLength="6.35" lengthAdjust="spacingAndGlyphs">10</text>
<text x="326.93" y="299.15" font-size="3.904" text-anchor="start" fill="#2a2a2a" stroke="#2a2a2a" stroke-width="0.1">5</text>
<g clip-path="url(#c3383_2464)">
<ellipse cx="360.00" cy="261.00" rx="8.0" ry="5.0" fill="#000" opacity="0.3" filter="url(#b7)"/>
<ellipse cx="358.00" cy="259.50" rx="3.4" ry="3.0" fill="#000" opacity="0.5" filter="url(#b8)"/>
<ellipse cx="363.90" cy="258.50" rx="3.4" ry="3.4" fill="#000" opacity="0.88" filter="url(#b1)"/>
<ellipse cx="372.20" cy="258.00" rx="3.6" ry="4.4" fill="#000" opacity="0.97" filter="url(#b1)"/>
<ellipse cx="368.05" cy="258.25" rx="3.0" ry="2.6" fill="#000" opacity="0.7040000000000001" filter="url(#b1)"/>
<ellipse cx="368.05" cy="261.75" rx="3.5" ry="2.5" fill="#000" opacity="0.25" filter="url(#b3)"/>
</g>
<rect x="338.30" y="246.40" width="47" height="47" fill="none" stroke="#6e6e6e" stroke-width="1"/>
<line x1="367.10" y1="246.40" x2="367.10" y2="293.40" stroke="#6e6e6e" stroke-width="1" />
<line x1="338.30" y1="275.20" x2="385.30" y2="275.20" stroke="#6e6e6e" stroke-width="1" />
<line x1="338.30" y1="246.40" x2="338.30" y2="293.40" stroke="#4a4a4a" stroke-width="1" />
<line x1="338.30" y1="293.40" x2="385.30" y2="293.40" stroke="#505050" stroke-width="1" />
<line x1="337.30" y1="250.90" x2="338.70" y2="250.90" stroke="#111" stroke-width="1.0" />
<line x1="337.30" y1="262.65" x2="338.70" y2="262.65" stroke="#111" stroke-width="1.0" />
<line x1="337.30" y1="275.50" x2="338.70" y2="275.50" stroke="#111" stroke-width="1.0" />
<line x1="337.30" y1="282.70" x2="338.70" y2="282.70" stroke="#111" stroke-width="1.0" />
<line x1="337.30" y1="290.50" x2="338.70" y2="290.50" stroke="#111" stroke-width="1.0" />
<ellipse cx="338.10" cy="283.20" rx="0.8" ry="1.2" fill="#111"/>
<line x1="341.90" y1="293.00" x2="341.90" y2="294.40" stroke="#222" stroke-width="0.9" />
<line x1="349.30" y1="293.00" x2="349.30" y2="294.40" stroke="#222" stroke-width="0.9" />
<line x1="355.90" y1="293.00" x2="355.90" y2="294.40" stroke="#222" stroke-width="0.9" />
<line x1="369.80" y1="293.00" x2="369.80" y2="294.40" stroke="#222" stroke-width="0.9" />
<line x1="381.10" y1="293.00" x2="381.10" y2="294.40" stroke="#222" stroke-width="0.9" />
<ellipse cx="349.30" cy="294.10" rx="1.3" ry="0.8" fill="#111"/>
<text x="340.50" y="253.56" font-size="5.4" text-anchor="start" fill="#2a2a2a" stroke="#2a2a2a" stroke-width="0.08">48</text>
<text x="383.80" y="253.56" font-size="5.4" text-anchor="end" fill="#2a2a2a" stroke="#2a2a2a" stroke-width="0.08">52</text>
<text x="340.50" y="290.86" font-size="5.4" text-anchor="start" fill="#2a2a2a" stroke="#2a2a2a" stroke-width="0.08">0</text>
<text x="383.80" y="290.86" font-size="5.4" text-anchor="end" fill="#2a2a2a" stroke="#2a2a2a" stroke-width="0.08">0</text>
<text x="342.40" y="302.10" font-size="6.1" text-anchor="middle" fill="#2a2a2a" stroke="#2a2a2a" stroke-width="0.12" textLength="6.35" lengthAdjust="spacingAndGlyphs">10</text>
<text x="345.73" y="299.15" font-size="3.904" text-anchor="start" fill="#2a2a2a" stroke="#2a2a2a" stroke-width="0.1">3</text>
<line x1="335.03" y1="300.30" x2="338.33" y2="300.30" stroke="#2a2a2a" stroke-width="0.75" />
<text x="349.00" y="302.07" font-size="6.0" text-anchor="middle" fill="#2a2a2a" stroke="#2a2a2a" stroke-width="0.12" textLength="3.00" lengthAdjust="spacingAndGlyphs">0</text>
<text x="354.70" y="302.10" font-size="6.1" text-anchor="middle" fill="#2a2a2a" stroke="#2a2a2a" stroke-width="0.12" textLength="6.35" lengthAdjust="spacingAndGlyphs">10</text>
<text x="358.02" y="299.15" font-size="3.904" text-anchor="start" fill="#2a2a2a" stroke="#2a2a2a" stroke-width="0.1">3</text>
<text x="368.80" y="302.10" font-size="6.1" text-anchor="middle" fill="#2a2a2a" stroke="#2a2a2a" stroke-width="0.12" textLength="6.35" lengthAdjust="spacingAndGlyphs">10</text>
<text x="372.12" y="299.15" font-size="3.904" text-anchor="start" fill="#2a2a2a" stroke="#2a2a2a" stroke-width="0.1">4</text>
<text x="380.10" y="302.10" font-size="6.1" text-anchor="middle" fill="#2a2a2a" stroke="#2a2a2a" stroke-width="0.12" textLength="6.35" lengthAdjust="spacingAndGlyphs">10</text>
<text x="383.43" y="299.15" font-size="3.904" text-anchor="start" fill="#2a2a2a" stroke="#2a2a2a" stroke-width="0.1">5</text>
<g clip-path="url(#c3958_2464)">
<ellipse cx="414.40" cy="264.20" rx="4.8" ry="7.0" fill="#000" opacity="0.3" filter="url(#b4)"/>
<ellipse cx="415.40" cy="260.20" rx="3.6" ry="4.0" fill="#000" opacity="0.97" filter="url(#b1)"/>
<ellipse cx="414.40" cy="264.70" rx="2.6" ry="2.6" fill="#000" opacity="0.4" filter="url(#b5)"/>
<ellipse cx="425.20" cy="259.60" rx="8.800000000000011" ry="2.7" fill="#000" opacity="0.3" filter="url(#b6)"/>
<ellipse cx="422.50" cy="259.60" rx="3.0" ry="2.4" fill="#000" opacity="0.4" filter="url(#b5)"/>
</g>
<rect x="395.80" y="246.40" width="47" height="47" fill="none" stroke="#6e6e6e" stroke-width="1"/>
<line x1="420.50" y1="246.40" x2="420.50" y2="293.40" stroke="#6e6e6e" stroke-width="1" />
<line x1="395.80" y1="273.90" x2="442.80" y2="273.90" stroke="#6e6e6e" stroke-width="1" />
<line x1="395.80" y1="246.40" x2="395.80" y2="293.40" stroke="#4a4a4a" stroke-width="1" />
<line x1="395.80" y1="293.40" x2="442.80" y2="293.40" stroke="#505050" stroke-width="1" />
<line x1="394.80" y1="250.90" x2="396.20" y2="250.90" stroke="#111" stroke-width="1.0" />
<line x1="394.80" y1="262.65" x2="396.20" y2="262.65" stroke="#111" stroke-width="1.0" />
<line x1="394.80" y1="275.50" x2="396.20" y2="275.50" stroke="#111" stroke-width="1.0" />
<line x1="394.80" y1="282.70" x2="396.20" y2="282.70" stroke="#111" stroke-width="1.0" />
<line x1="394.80" y1="290.50" x2="396.20" y2="290.50" stroke="#111" stroke-width="1.0" />
<ellipse cx="395.60" cy="283.20" rx="0.8" ry="1.2" fill="#111"/>
<line x1="399.40" y1="293.00" x2="399.40" y2="294.40" stroke="#222" stroke-width="0.9" />
<line x1="406.80" y1="293.00" x2="406.80" y2="294.40" stroke="#222" stroke-width="0.9" />
<line x1="413.40" y1="293.00" x2="413.40" y2="294.40" stroke="#222" stroke-width="0.9" />
<line x1="427.30" y1="293.00" x2="427.30" y2="294.40" stroke="#222" stroke-width="0.9" />
<line x1="438.60" y1="293.00" x2="438.60" y2="294.40" stroke="#222" stroke-width="0.9" />
<ellipse cx="406.80" cy="294.10" rx="1.3" ry="0.8" fill="#111"/>
<text x="398.00" y="253.56" font-size="5.4" text-anchor="start" fill="#2a2a2a" stroke="#2a2a2a" stroke-width="0.08">76</text>
<text x="441.30" y="253.56" font-size="5.4" text-anchor="end" fill="#2a2a2a" stroke="#2a2a2a" stroke-width="0.08">24</text>
<text x="398.00" y="290.86" font-size="5.4" text-anchor="start" fill="#2a2a2a" stroke="#2a2a2a" stroke-width="0.08">0</text>
<text x="441.30" y="290.86" font-size="5.4" text-anchor="end" fill="#2a2a2a" stroke="#2a2a2a" stroke-width="0.08">0</text>
<text x="399.90" y="302.10" font-size="6.1" text-anchor="middle" fill="#2a2a2a" stroke="#2a2a2a" stroke-width="0.12" textLength="6.35" lengthAdjust="spacingAndGlyphs">10</text>
<text x="403.23" y="299.15" font-size="3.904" text-anchor="start" fill="#2a2a2a" stroke="#2a2a2a" stroke-width="0.1">3</text>
<line x1="392.53" y1="300.30" x2="395.83" y2="300.30" stroke="#2a2a2a" stroke-width="0.75" />
<text x="406.50" y="302.07" font-size="6.0" text-anchor="middle" fill="#2a2a2a" stroke="#2a2a2a" stroke-width="0.12" textLength="3.00" lengthAdjust="spacingAndGlyphs">0</text>
<text x="412.20" y="302.10" font-size="6.1" text-anchor="middle" fill="#2a2a2a" stroke="#2a2a2a" stroke-width="0.12" textLength="6.35" lengthAdjust="spacingAndGlyphs">10</text>
<text x="415.52" y="299.15" font-size="3.904" text-anchor="start" fill="#2a2a2a" stroke="#2a2a2a" stroke-width="0.1">3</text>
<text x="426.30" y="302.10" font-size="6.1" text-anchor="middle" fill="#2a2a2a" stroke="#2a2a2a" stroke-width="0.12" textLength="6.35" lengthAdjust="spacingAndGlyphs">10</text>
<text x="429.62" y="299.15" font-size="3.904" text-anchor="start" fill="#2a2a2a" stroke="#2a2a2a" stroke-width="0.1">4</text>
<text x="437.60" y="302.10" font-size="6.1" text-anchor="middle" fill="#2a2a2a" stroke="#2a2a2a" stroke-width="0.12" textLength="6.35" lengthAdjust="spacingAndGlyphs">10</text>
<text x="440.93" y="299.15" font-size="3.904" text-anchor="start" fill="#2a2a2a" stroke="#2a2a2a" stroke-width="0.1">5</text>
<g clip-path="url(#c4519_2464)">
<ellipse cx="474.00" cy="260.50" rx="8.0" ry="5.0" fill="#000" opacity="0.3" filter="url(#b7)"/>
<ellipse cx="471.00" cy="259.00" rx="3.4" ry="3.0" fill="#000" opacity="0.5" filter="url(#b8)"/>
<ellipse cx="477.00" cy="258.00" rx="3.4" ry="3.4" fill="#000" opacity="0.55" filter="url(#b1)"/>
<ellipse cx="487.00" cy="256.80" rx="3.6" ry="4.4" fill="#000" opacity="0.97" filter="url(#b1)"/>
<ellipse cx="482.00" cy="257.40" rx="3.0" ry="2.6" fill="#000" opacity="0.44000000000000006" filter="url(#b1)"/>
<ellipse cx="482.00" cy="260.90" rx="3.5" ry="2.5" fill="#000" opacity="0.25" filter="url(#b3)"/>
</g>
<rect x="451.90" y="246.40" width="47" height="47" fill="none" stroke="#6e6e6e" stroke-width="1"/>
<line x1="480.70" y1="246.40" x2="480.70" y2="293.40" stroke="#6e6e6e" stroke-width="1" />
<line x1="451.90" y1="275.20" x2="498.90" y2="275.20" stroke="#6e6e6e" stroke-width="1" />
<line x1="451.90" y1="246.40" x2="451.90" y2="293.40" stroke="#4a4a4a" stroke-width="1" />
<line x1="451.90" y1="293.40" x2="498.90" y2="293.40" stroke="#505050" stroke-width="1" />
<line x1="450.90" y1="250.90" x2="452.30" y2="250.90" stroke="#111" stroke-width="1.0" />
<line x1="450.90" y1="262.65" x2="452.30" y2="262.65" stroke="#111" stroke-width="1.0" />
<line x1="450.90" y1="275.50" x2="452.30" y2="275.50" stroke="#111" stroke-width="1.0" />
<line x1="450.90" y1="282.70" x2="452.30" y2="282.70" stroke="#111" stroke-width="1.0" />
<line x1="450.90" y1="290.50" x2="452.30" y2="290.50" stroke="#111" stroke-width="1.0" />
<ellipse cx="451.70" cy="283.20" rx="0.8" ry="1.2" fill="#111"/>
<line x1="455.50" y1="293.00" x2="455.50" y2="294.40" stroke="#222" stroke-width="0.9" />
<line x1="462.90" y1="293.00" x2="462.90" y2="294.40" stroke="#222" stroke-width="0.9" />
<line x1="469.50" y1="293.00" x2="469.50" y2="294.40" stroke="#222" stroke-width="0.9" />
<line x1="483.40" y1="293.00" x2="483.40" y2="294.40" stroke="#222" stroke-width="0.9" />
<line x1="494.70" y1="293.00" x2="494.70" y2="294.40" stroke="#222" stroke-width="0.9" />
<ellipse cx="462.90" cy="294.10" rx="1.3" ry="0.8" fill="#111"/>
<text x="454.10" y="253.56" font-size="5.4" text-anchor="start" fill="#2a2a2a" stroke="#2a2a2a" stroke-width="0.08">30</text>
<text x="497.40" y="253.56" font-size="5.4" text-anchor="end" fill="#2a2a2a" stroke="#2a2a2a" stroke-width="0.08">70</text>
<text x="454.10" y="290.86" font-size="5.4" text-anchor="start" fill="#2a2a2a" stroke="#2a2a2a" stroke-width="0.08">0</text>
<text x="497.40" y="290.86" font-size="5.4" text-anchor="end" fill="#2a2a2a" stroke="#2a2a2a" stroke-width="0.08">0</text>
<text x="456.00" y="302.10" font-size="6.1" text-anchor="middle" fill="#2a2a2a" stroke="#2a2a2a" stroke-width="0.12" textLength="6.35" lengthAdjust="spacingAndGlyphs">10</text>
<text x="459.32" y="299.15" font-size="3.904" text-anchor="start" fill="#2a2a2a" stroke="#2a2a2a" stroke-width="0.1">3</text>
<line x1="448.62" y1="300.30" x2="451.93" y2="300.30" stroke="#2a2a2a" stroke-width="0.75" />
<text x="462.60" y="302.07" font-size="6.0" text-anchor="middle" fill="#2a2a2a" stroke="#2a2a2a" stroke-width="0.12" textLength="3.00" lengthAdjust="spacingAndGlyphs">0</text>
<text x="468.30" y="302.10" font-size="6.1" text-anchor="middle" fill="#2a2a2a" stroke="#2a2a2a" stroke-width="0.12" textLength="6.35" lengthAdjust="spacingAndGlyphs">10</text>
<text x="471.62" y="299.15" font-size="3.904" text-anchor="start" fill="#2a2a2a" stroke="#2a2a2a" stroke-width="0.1">3</text>
<text x="482.40" y="302.10" font-size="6.1" text-anchor="middle" fill="#2a2a2a" stroke="#2a2a2a" stroke-width="0.12" textLength="6.35" lengthAdjust="spacingAndGlyphs">10</text>
<text x="485.72" y="299.15" font-size="3.904" text-anchor="start" fill="#2a2a2a" stroke="#2a2a2a" stroke-width="0.1">4</text>
<text x="493.70" y="302.10" font-size="6.1" text-anchor="middle" fill="#2a2a2a" stroke="#2a2a2a" stroke-width="0.12" textLength="6.35" lengthAdjust="spacingAndGlyphs">10</text>
<text x="497.02" y="299.15" font-size="3.904" text-anchor="start" fill="#2a2a2a" stroke="#2a2a2a" stroke-width="0.1">5</text>
<text x="107.50" y="171.80" font-size="8.7" text-anchor="middle" fill="#2a2a2a" stroke="#2a2a2a" stroke-width="0.12" textLength="12.40" lengthAdjust="spacingAndGlyphs">HD</text>
<text x="216.20" y="171.80" font-size="8.7" text-anchor="middle" fill="#2a2a2a" stroke="#2a2a2a" stroke-width="0.12" textLength="30.40" lengthAdjust="spacingAndGlyphs">Case #1</text>
<text x="333.80" y="171.80" font-size="8.7" text-anchor="middle" fill="#2a2a2a" stroke="#2a2a2a" stroke-width="0.12" textLength="32.00" lengthAdjust="spacingAndGlyphs">Parent 1</text>
<text x="447.80" y="171.80" font-size="8.7" text-anchor="middle" fill="#2a2a2a" stroke="#2a2a2a" stroke-width="0.12" textLength="32.00" lengthAdjust="spacingAndGlyphs">Parent 2</text>
<line x1="55.50" y1="177.35" x2="158.80" y2="177.35" stroke="#4a4a4a" stroke-width="1.2" />
<line x1="170.00" y1="177.35" x2="262.50" y2="177.35" stroke="#4a4a4a" stroke-width="1.2" />
<line x1="282.50" y1="177.35" x2="385.00" y2="177.35" stroke="#4a4a4a" stroke-width="1.2" />
<line x1="396.20" y1="177.35" x2="499.00" y2="177.35" stroke="#4a4a4a" stroke-width="1.2" />
<text x="79.30" y="185.71" font-size="6.7" text-anchor="middle" fill="#2a2a2a" stroke="#2a2a2a" stroke-width="0.12" textLength="13.30" lengthAdjust="spacingAndGlyphs">– IL2</text>
<text x="135.70" y="185.71" font-size="6.7" text-anchor="middle" fill="#2a2a2a" stroke="#2a2a2a" stroke-width="0.12" textLength="13.30" lengthAdjust="spacingAndGlyphs">+ IL2</text>
<text x="192.00" y="185.71" font-size="6.7" text-anchor="middle" fill="#2a2a2a" stroke="#2a2a2a" stroke-width="0.12" textLength="13.30" lengthAdjust="spacingAndGlyphs">– IL2</text>
<text x="248.40" y="185.71" font-size="6.7" text-anchor="middle" fill="#2a2a2a" stroke="#2a2a2a" stroke-width="0.12" textLength="13.30" lengthAdjust="spacingAndGlyphs">+ IL2</text>
<text x="305.30" y="185.71" font-size="6.7" text-anchor="middle" fill="#2a2a2a" stroke="#2a2a2a" stroke-width="0.12" textLength="13.30" lengthAdjust="spacingAndGlyphs">– IL2</text>
<text x="361.80" y="185.71" font-size="6.7" text-anchor="middle" fill="#2a2a2a" stroke="#2a2a2a" stroke-width="0.12" textLength="13.30" lengthAdjust="spacingAndGlyphs">+ IL2</text>
<text x="419.30" y="185.71" font-size="6.7" text-anchor="middle" fill="#2a2a2a" stroke="#2a2a2a" stroke-width="0.12" textLength="13.30" lengthAdjust="spacingAndGlyphs">– IL2</text>
<text x="475.40" y="185.71" font-size="6.7" text-anchor="middle" fill="#2a2a2a" stroke="#2a2a2a" stroke-width="0.12" textLength="13.30" lengthAdjust="spacingAndGlyphs">+ IL2</text>
<text x="29.30" y="217.06" font-size="9.3" text-anchor="middle" fill="#2a2a2a" stroke="#2a2a2a" stroke-width="0.12" textLength="25.70" lengthAdjust="spacingAndGlyphs" transform="rotate(-90 29.30 213.85)">- Targets</text>
<text x="29.30" y="272.86" font-size="9.3" text-anchor="middle" fill="#2a2a2a" stroke="#2a2a2a" stroke-width="0.12" textLength="28.10" lengthAdjust="spacingAndGlyphs" transform="rotate(-90 29.30 269.65)">+ Targets</text>
<text x="12.10" y="295.74" font-size="9.4" text-anchor="middle" fill="#2a2a2a" stroke="#2a2a2a" stroke-width="0.12" textLength="17.00" lengthAdjust="spacingAndGlyphs" transform="rotate(-90 12.10 292.50)">CD56</text>
<text x="38.80" y="319.27" font-size="8.9" text-anchor="middle" fill="#2a2a2a" stroke="#2a2a2a" stroke-width="0.12" textLength="22.00" lengthAdjust="spacingAndGlyphs">LAMP-1</text>
<line x1="19.40" y1="280.00" x2="19.40" y2="309.40" stroke="#1a1a1a" stroke-width="1.1" />
<line x1="18.85" y1="309.40" x2="54.50" y2="309.40" stroke="#1a1a1a" stroke-width="1.1" />
<path d="M19.4,276.4 L21.7,281.6 L17.1,281.6 Z" fill="#1a1a1a"/>
<path d="M58.0,309.4 L52.8,307.1 L52.8,311.7 Z" fill="#1a1a1a"/>
<g clip-path="url(#c1913_3628)">
<ellipse cx="203.50" cy="380.50" rx="9" ry="6.5" fill="#000" opacity="0.38" filter="url(#b2)"/>
<ellipse cx="208.30" cy="378.80" rx="4.368" ry="3.4720000000000004" fill="#000" opacity="0.97" filter="url(#b9)"/>
</g>
<rect x="191.30" y="362.80" width="47" height="46.5" fill="none" stroke="#6e6e6e" stroke-width="1"/>
<line x1="216.30" y1="362.80" x2="216.30" y2="409.30" stroke="#6e6e6e" stroke-width="1" />
<line x1="191.30" y1="390.50" x2="238.30" y2="390.50" stroke="#6e6e6e" stroke-width="1" />
<line x1="191.30" y1="362.80" x2="191.30" y2="409.30" stroke="#4a4a4a" stroke-width="1" />
<line x1="191.30" y1="409.30" x2="238.30" y2="409.30" stroke="#505050" stroke-width="1" />
<line x1="190.30" y1="367.30" x2="191.70" y2="367.30" stroke="#111" stroke-width="1.0" />
<line x1="190.30" y1="379.05" x2="191.70" y2="379.05" stroke="#111" stroke-width="1.0" />
<line x1="190.30" y1="391.90" x2="191.70" y2="391.90" stroke="#111" stroke-width="1.0" />
<line x1="190.30" y1="399.10" x2="191.70" y2="399.10" stroke="#111" stroke-width="1.0" />
<line x1="190.30" y1="406.90" x2="191.70" y2="406.90" stroke="#111" stroke-width="1.0" />
<ellipse cx="191.10" cy="399.60" rx="0.8" ry="1.2" fill="#111"/>
<line x1="194.90" y1="408.90" x2="194.90" y2="410.30" stroke="#222" stroke-width="0.9" />
<line x1="202.30" y1="408.90" x2="202.30" y2="410.30" stroke="#222" stroke-width="0.9" />
<line x1="208.90" y1="408.90" x2="208.90" y2="410.30" stroke="#222" stroke-width="0.9" />
<line x1="222.80" y1="408.90" x2="222.80" y2="410.30" stroke="#222" stroke-width="0.9" />
<line x1="234.10" y1="408.90" x2="234.10" y2="410.30" stroke="#222" stroke-width="0.9" />
<ellipse cx="202.30" cy="410.00" rx="1.3" ry="0.8" fill="#111"/>
<text x="193.50" y="369.96" font-size="5.4" text-anchor="start" fill="#2a2a2a" stroke="#2a2a2a" stroke-width="0.08">99</text>
<text x="236.80" y="369.96" font-size="5.4" text-anchor="end" fill="#2a2a2a" stroke="#2a2a2a" stroke-width="0.08">1</text>
<text x="193.50" y="406.76" font-size="5.4" text-anchor="start" fill="#2a2a2a" stroke="#2a2a2a" stroke-width="0.08">0</text>
<text x="236.80" y="406.76" font-size="5.4" text-anchor="end" fill="#2a2a2a" stroke="#2a2a2a" stroke-width="0.08">0</text>
<text x="181.20" y="369.40" font-size="6.1" text-anchor="middle" fill="#2a2a2a" stroke="#2a2a2a" stroke-width="0.12" textLength="6.35" lengthAdjust="spacingAndGlyphs">10</text>
<text x="184.53" y="366.45" font-size="3.904" text-anchor="start" fill="#2a2a2a" stroke="#2a2a2a" stroke-width="0.1">5</text>
<text x="181.20" y="381.15" font-size="6.1" text-anchor="middle" fill="#2a2a2a" stroke="#2a2a2a" stroke-width="0.12" textLength="6.35" lengthAdjust="spacingAndGlyphs">10</text>
<text x="184.53" y="378.20" font-size="3.904" text-anchor="start" fill="#2a2a2a" stroke="#2a2a2a" stroke-width="0.1">4</text>
<text x="181.20" y="394.00" font-size="6.1" text-anchor="middle" fill="#2a2a2a" stroke="#2a2a2a" stroke-width="0.12" textLength="6.35" lengthAdjust="spacingAndGlyphs">10</text>
<text x="184.53" y="391.05" font-size="3.904" text-anchor="start" fill="#2a2a2a" stroke="#2a2a2a" stroke-width="0.1">3</text>
<text x="185.80" y="401.14" font-size="5.9" text-anchor="end" fill="#2a2a2a" stroke="#2a2a2a" stroke-width="0.12" textLength="3.00" lengthAdjust="spacingAndGlyphs">0</text>
<text x="181.20" y="409.00" font-size="6.1" text-anchor="middle" fill="#2a2a2a" stroke="#2a2a2a" stroke-width="0.12" textLength="6.35" lengthAdjust="spacingAndGlyphs">10</text>
<text x="184.53" y="406.05" font-size="3.904" text-anchor="start" fill="#2a2a2a" stroke="#2a2a2a" stroke-width="0.1">3</text>
<line x1="173.83" y1="407.20" x2="177.12" y2="407.20" stroke="#2a2a2a" stroke-width="0.75" />
<g clip-path="url(#c2446_3628)">
<ellipse cx="258.50" cy="379.50" rx="9.5" ry="7.5" fill="#000" opacity="0.38" filter="url(#b2)"/>
<ellipse cx="264.20" cy="376.40" rx="4.256" ry="4.256" fill="#000" opacity="0.97" filter="url(#b9)"/>
</g>
<rect x="244.60" y="362.80" width="47" height="46.5" fill="none" stroke="#6e6e6e" stroke-width="1"/>
<line x1="269.60" y1="362.80" x2="269.60" y2="409.30" stroke="#6e6e6e" stroke-width="1" />
<line x1="244.60" y1="390.50" x2="291.60" y2="390.50" stroke="#6e6e6e" stroke-width="1" />
<line x1="244.60" y1="362.80" x2="244.60" y2="409.30" stroke="#4a4a4a" stroke-width="1" />
<line x1="244.60" y1="409.30" x2="291.60" y2="409.30" stroke="#505050" stroke-width="1" />
<line x1="243.60" y1="367.30" x2="245.00" y2="367.30" stroke="#111" stroke-width="1.0" />
<line x1="243.60" y1="379.05" x2="245.00" y2="379.05" stroke="#111" stroke-width="1.0" />
<line x1="243.60" y1="391.90" x2="245.00" y2="391.90" stroke="#111" stroke-width="1.0" />
<line x1="243.60" y1="399.10" x2="245.00" y2="399.10" stroke="#111" stroke-width="1.0" />
<line x1="243.60" y1="406.90" x2="245.00" y2="406.90" stroke="#111" stroke-width="1.0" />
<ellipse cx="244.40" cy="399.60" rx="0.8" ry="1.2" fill="#111"/>
<line x1="248.20" y1="408.90" x2="248.20" y2="410.30" stroke="#222" stroke-width="0.9" />
<line x1="255.60" y1="408.90" x2="255.60" y2="410.30" stroke="#222" stroke-width="0.9" />
<line x1="262.20" y1="408.90" x2="262.20" y2="410.30" stroke="#222" stroke-width="0.9" />
<line x1="276.10" y1="408.90" x2="276.10" y2="410.30" stroke="#222" stroke-width="0.9" />
<line x1="287.40" y1="408.90" x2="287.40" y2="410.30" stroke="#222" stroke-width="0.9" />
<ellipse cx="255.60" cy="410.00" rx="1.3" ry="0.8" fill="#111"/>
<text x="246.80" y="369.96" font-size="5.4" text-anchor="start" fill="#2a2a2a" stroke="#2a2a2a" stroke-width="0.08">92</text>
<text x="290.10" y="369.96" font-size="5.4" text-anchor="end" fill="#2a2a2a" stroke="#2a2a2a" stroke-width="0.08">8</text>
<text x="246.80" y="406.76" font-size="5.4" text-anchor="start" fill="#2a2a2a" stroke="#2a2a2a" stroke-width="0.08">0</text>
<text x="290.10" y="406.76" font-size="5.4" text-anchor="end" fill="#2a2a2a" stroke="#2a2a2a" stroke-width="0.08">0</text>
<g clip-path="url(#c3003_3628)">
<ellipse cx="312.00" cy="381.50" rx="9" ry="6" fill="#000" opacity="0.38" filter="url(#b2)"/>
<ellipse cx="318.30" cy="380.30" rx="4.48" ry="3.8080000000000003" fill="#000" opacity="0.97" filter="url(#b9)"/>
</g>
<rect x="300.30" y="362.80" width="47" height="46.5" fill="none" stroke="#6e6e6e" stroke-width="1"/>
<line x1="325.30" y1="362.80" x2="325.30" y2="409.30" stroke="#6e6e6e" stroke-width="1" />
<line x1="300.30" y1="390.50" x2="347.30" y2="390.50" stroke="#6e6e6e" stroke-width="1" />
<line x1="300.30" y1="362.80" x2="300.30" y2="409.30" stroke="#4a4a4a" stroke-width="1" />
<line x1="300.30" y1="409.30" x2="347.30" y2="409.30" stroke="#505050" stroke-width="1" />
<line x1="299.30" y1="367.30" x2="300.70" y2="367.30" stroke="#111" stroke-width="1.0" />
<line x1="299.30" y1="379.05" x2="300.70" y2="379.05" stroke="#111" stroke-width="1.0" />
<line x1="299.30" y1="391.90" x2="300.70" y2="391.90" stroke="#111" stroke-width="1.0" />
<line x1="299.30" y1="399.10" x2="300.70" y2="399.10" stroke="#111" stroke-width="1.0" />
<line x1="299.30" y1="406.90" x2="300.70" y2="406.90" stroke="#111" stroke-width="1.0" />
<ellipse cx="300.10" cy="399.60" rx="0.8" ry="1.2" fill="#111"/>
<line x1="303.90" y1="408.90" x2="303.90" y2="410.30" stroke="#222" stroke-width="0.9" />
<line x1="311.30" y1="408.90" x2="311.30" y2="410.30" stroke="#222" stroke-width="0.9" />
<line x1="317.90" y1="408.90" x2="317.90" y2="410.30" stroke="#222" stroke-width="0.9" />
<line x1="331.80" y1="408.90" x2="331.80" y2="410.30" stroke="#222" stroke-width="0.9" />
<line x1="343.10" y1="408.90" x2="343.10" y2="410.30" stroke="#222" stroke-width="0.9" />
<ellipse cx="311.30" cy="410.00" rx="1.3" ry="0.8" fill="#111"/>
<text x="302.50" y="369.96" font-size="5.4" text-anchor="start" fill="#2a2a2a" stroke="#2a2a2a" stroke-width="0.08">100</text>
<text x="345.80" y="369.96" font-size="5.4" text-anchor="end" fill="#2a2a2a" stroke="#2a2a2a" stroke-width="0.08">0</text>
<text x="302.50" y="406.76" font-size="5.4" text-anchor="start" fill="#2a2a2a" stroke="#2a2a2a" stroke-width="0.08">0</text>
<text x="345.80" y="406.76" font-size="5.4" text-anchor="end" fill="#2a2a2a" stroke="#2a2a2a" stroke-width="0.08">0</text>
<g clip-path="url(#c3540_3628)">
<ellipse cx="368.00" cy="380.00" rx="7.5" ry="7.5" fill="#000" opacity="0.38" filter="url(#b2)"/>
<ellipse cx="372.20" cy="377.40" rx="4.032000000000001" ry="5.376" fill="#000" opacity="0.97" filter="url(#b9)"/>
</g>
<rect x="354.00" y="362.80" width="47" height="46.5" fill="none" stroke="#6e6e6e" stroke-width="1"/>
<line x1="379.00" y1="362.80" x2="379.00" y2="409.30" stroke="#6e6e6e" stroke-width="1" />
<line x1="354.00" y1="390.50" x2="401.00" y2="390.50" stroke="#6e6e6e" stroke-width="1" />
<line x1="354.00" y1="362.80" x2="354.00" y2="409.30" stroke="#4a4a4a" stroke-width="1" />
<line x1="354.00" y1="409.30" x2="401.00" y2="409.30" stroke="#505050" stroke-width="1" />
<line x1="353.00" y1="367.30" x2="354.40" y2="367.30" stroke="#111" stroke-width="1.0" />
<line x1="353.00" y1="379.05" x2="354.40" y2="379.05" stroke="#111" stroke-width="1.0" />
<line x1="353.00" y1="391.90" x2="354.40" y2="391.90" stroke="#111" stroke-width="1.0" />
<line x1="353.00" y1="399.10" x2="354.40" y2="399.10" stroke="#111" stroke-width="1.0" />
<line x1="353.00" y1="406.90" x2="354.40" y2="406.90" stroke="#111" stroke-width="1.0" />
<ellipse cx="353.80" cy="399.60" rx="0.8" ry="1.2" fill="#111"/>
<line x1="357.60" y1="408.90" x2="357.60" y2="410.30" stroke="#222" stroke-width="0.9" />
<line x1="365.00" y1="408.90" x2="365.00" y2="410.30" stroke="#222" stroke-width="0.9" />
<line x1="371.60" y1="408.90" x2="371.60" y2="410.30" stroke="#222" stroke-width="0.9" />
<line x1="385.50" y1="408.90" x2="385.50" y2="410.30" stroke="#222" stroke-width="0.9" />
<line x1="396.80" y1="408.90" x2="396.80" y2="410.30" stroke="#222" stroke-width="0.9" />
<ellipse cx="365.00" cy="410.00" rx="1.3" ry="0.8" fill="#111"/>
<text x="356.20" y="369.96" font-size="5.4" text-anchor="start" fill="#2a2a2a" stroke="#2a2a2a" stroke-width="0.08">98</text>
<text x="399.50" y="369.96" font-size="5.4" text-anchor="end" fill="#2a2a2a" stroke="#2a2a2a" stroke-width="0.08">2</text>
<text x="356.20" y="406.76" font-size="5.4" text-anchor="start" fill="#2a2a2a" stroke="#2a2a2a" stroke-width="0.08">0</text>
<text x="399.50" y="406.76" font-size="5.4" text-anchor="end" fill="#2a2a2a" stroke="#2a2a2a" stroke-width="0.08">0</text>
<g clip-path="url(#c1913_4162)">
<ellipse cx="204.00" cy="433.50" rx="9.5" ry="7" fill="#000" opacity="0.38" filter="url(#b2)"/>
<ellipse cx="208.80" cy="432.30" rx="5.152" ry="4.144000000000001" fill="#000" opacity="0.97" filter="url(#b9)"/>
<ellipse cx="219.80" cy="430.40" rx="2.0" ry="2.0" fill="#000" opacity="0.15" filter="url(#b5)"/>
</g>
<rect x="191.30" y="416.20" width="47" height="46.5" fill="none" stroke="#6e6e6e" stroke-width="1"/>
<line x1="216.30" y1="416.20" x2="216.30" y2="462.70" stroke="#6e6e6e" stroke-width="1" />
<line x1="191.30" y1="443.40" x2="238.30" y2="443.40" stroke="#6e6e6e" stroke-width="1" />
<line x1="191.30" y1="416.20" x2="191.30" y2="462.70" stroke="#4a4a4a" stroke-width="1" />
<line x1="191.30" y1="462.70" x2="238.30" y2="462.70" stroke="#505050" stroke-width="1" />
<line x1="190.30" y1="420.70" x2="191.70" y2="420.70" stroke="#111" stroke-width="1.0" />
<line x1="190.30" y1="432.45" x2="191.70" y2="432.45" stroke="#111" stroke-width="1.0" />
<line x1="190.30" y1="445.30" x2="191.70" y2="445.30" stroke="#111" stroke-width="1.0" />
<line x1="190.30" y1="452.50" x2="191.70" y2="452.50" stroke="#111" stroke-width="1.0" />
<line x1="190.30" y1="460.30" x2="191.70" y2="460.30" stroke="#111" stroke-width="1.0" />
<ellipse cx="191.10" cy="453.00" rx="0.8" ry="1.2" fill="#111"/>
<line x1="194.90" y1="462.30" x2="194.90" y2="463.70" stroke="#222" stroke-width="0.9" />
<line x1="202.30" y1="462.30" x2="202.30" y2="463.70" stroke="#222" stroke-width="0.9" />
<line x1="208.90" y1="462.30" x2="208.90" y2="463.70" stroke="#222" stroke-width="0.9" />
<line x1="222.80" y1="462.30" x2="222.80" y2="463.70" stroke="#222" stroke-width="0.9" />
<line x1="234.10" y1="462.30" x2="234.10" y2="463.70" stroke="#222" stroke-width="0.9" />
<ellipse cx="202.30" cy="463.40" rx="1.3" ry="0.8" fill="#111"/>
<text x="193.50" y="423.36" font-size="5.4" text-anchor="start" fill="#2a2a2a" stroke="#2a2a2a" stroke-width="0.08">95</text>
<text x="236.80" y="423.36" font-size="5.4" text-anchor="end" fill="#2a2a2a" stroke="#2a2a2a" stroke-width="0.08">5</text>
<text x="193.50" y="460.16" font-size="5.4" text-anchor="start" fill="#2a2a2a" stroke="#2a2a2a" stroke-width="0.08">0</text>
<text x="236.80" y="460.16" font-size="5.4" text-anchor="end" fill="#2a2a2a" stroke="#2a2a2a" stroke-width="0.08">0</text>
<text x="181.20" y="422.80" font-size="6.1" text-anchor="middle" fill="#2a2a2a" stroke="#2a2a2a" stroke-width="0.12" textLength="6.35" lengthAdjust="spacingAndGlyphs">10</text>
<text x="184.53" y="419.85" font-size="3.904" text-anchor="start" fill="#2a2a2a" stroke="#2a2a2a" stroke-width="0.1">5</text>
<text x="181.20" y="434.55" font-size="6.1" text-anchor="middle" fill="#2a2a2a" stroke="#2a2a2a" stroke-width="0.12" textLength="6.35" lengthAdjust="spacingAndGlyphs">10</text>
<text x="184.53" y="431.60" font-size="3.904" text-anchor="start" fill="#2a2a2a" stroke="#2a2a2a" stroke-width="0.1">4</text>
<text x="181.20" y="447.40" font-size="6.1" text-anchor="middle" fill="#2a2a2a" stroke="#2a2a2a" stroke-width="0.12" textLength="6.35" lengthAdjust="spacingAndGlyphs">10</text>
<text x="184.53" y="444.45" font-size="3.904" text-anchor="start" fill="#2a2a2a" stroke="#2a2a2a" stroke-width="0.1">3</text>
<text x="185.80" y="454.54" font-size="5.9" text-anchor="end" fill="#2a2a2a" stroke="#2a2a2a" stroke-width="0.12" textLength="3.00" lengthAdjust="spacingAndGlyphs">0</text>
<text x="181.20" y="462.40" font-size="6.1" text-anchor="middle" fill="#2a2a2a" stroke="#2a2a2a" stroke-width="0.12" textLength="6.35" lengthAdjust="spacingAndGlyphs">10</text>
<text x="184.53" y="459.45" font-size="3.904" text-anchor="start" fill="#2a2a2a" stroke="#2a2a2a" stroke-width="0.1">3</text>
<line x1="173.83" y1="460.60" x2="177.12" y2="460.60" stroke="#2a2a2a" stroke-width="0.75" />
<text x="195.40" y="471.40" font-size="6.1" text-anchor="middle" fill="#2a2a2a" stroke="#2a2a2a" stroke-width="0.12" textLength="6.35" lengthAdjust="spacingAndGlyphs">10</text>
<text x="198.73" y="468.45" font-size="3.904" text-anchor="start" fill="#2a2a2a" stroke="#2a2a2a" stroke-width="0.1">3</text>
<line x1="188.03" y1="469.60" x2="191.32" y2="469.60" stroke="#2a2a2a" stroke-width="0.75" />
<text x="202.00" y="471.37" font-size="6.0" text-anchor="middle" fill="#2a2a2a" stroke="#2a2a2a" stroke-width="0.12" textLength="3.00" lengthAdjust="spacingAndGlyphs">0</text>
<text x="207.70" y="471.40" font-size="6.1" text-anchor="middle" fill="#2a2a2a" stroke="#2a2a2a" stroke-width="0.12" textLength="6.35" lengthAdjust="spacingAndGlyphs">10</text>
<text x="211.03" y="468.45" font-size="3.904" text-anchor="start" fill="#2a2a2a" stroke="#2a2a2a" stroke-width="0.1">3</text>
<text x="221.80" y="471.40" font-size="6.1" text-anchor="middle" fill="#2a2a2a" stroke="#2a2a2a" stroke-width="0.12" textLength="6.35" lengthAdjust="spacingAndGlyphs">10</text>
<text x="225.13" y="468.45" font-size="3.904" text-anchor="start" fill="#2a2a2a" stroke="#2a2a2a" stroke-width="0.1">4</text>
<text x="233.10" y="471.40" font-size="6.1" text-anchor="middle" fill="#2a2a2a" stroke="#2a2a2a" stroke-width="0.12" textLength="6.35" lengthAdjust="spacingAndGlyphs">10</text>
<text x="236.43" y="468.45" font-size="3.904" text-anchor="start" fill="#2a2a2a" stroke="#2a2a2a" stroke-width="0.1">5</text>
<g clip-path="url(#c2446_4162)">
<ellipse cx="259.00" cy="433.50" rx="8.5" ry="7.5" fill="#000" opacity="0.38" filter="url(#b2)"/>
<ellipse cx="263.20" cy="430.40" rx="4.816" ry="4.928000000000001" fill="#000" opacity="0.97" filter="url(#b9)"/>
<ellipse cx="272.40" cy="428.50" rx="2.2" ry="2.0" fill="#000" opacity="0.55" filter="url(#b1)"/>
<ellipse cx="262.50" cy="437.50" rx="2.5" ry="2.5" fill="#000" opacity="0.35" filter="url(#b5)"/>
</g>
<rect x="244.60" y="416.20" width="47" height="46.5" fill="none" stroke="#6e6e6e" stroke-width="1"/>
<line x1="269.60" y1="416.20" x2="269.60" y2="462.70" stroke="#6e6e6e" stroke-width="1" />
<line x1="244.60" y1="443.40" x2="291.60" y2="443.40" stroke="#6e6e6e" stroke-width="1" />
<line x1="244.60" y1="416.20" x2="244.60" y2="462.70" stroke="#4a4a4a" stroke-width="1" />
<line x1="244.60" y1="462.70" x2="291.60" y2="462.70" stroke="#505050" stroke-width="1" />
<line x1="243.60" y1="420.70" x2="245.00" y2="420.70" stroke="#111" stroke-width="1.0" />
<line x1="243.60" y1="432.45" x2="245.00" y2="432.45" stroke="#111" stroke-width="1.0" />
<line x1="243.60" y1="445.30" x2="245.00" y2="445.30" stroke="#111" stroke-width="1.0" />
<line x1="243.60" y1="452.50" x2="245.00" y2="452.50" stroke="#111" stroke-width="1.0" />
<line x1="243.60" y1="460.30" x2="245.00" y2="460.30" stroke="#111" stroke-width="1.0" />
<ellipse cx="244.40" cy="453.00" rx="0.8" ry="1.2" fill="#111"/>
<line x1="248.20" y1="462.30" x2="248.20" y2="463.70" stroke="#222" stroke-width="0.9" />
<line x1="255.60" y1="462.30" x2="255.60" y2="463.70" stroke="#222" stroke-width="0.9" />
<line x1="262.20" y1="462.30" x2="262.20" y2="463.70" stroke="#222" stroke-width="0.9" />
<line x1="276.10" y1="462.30" x2="276.10" y2="463.70" stroke="#222" stroke-width="0.9" />
<line x1="287.40" y1="462.30" x2="287.40" y2="463.70" stroke="#222" stroke-width="0.9" />
<ellipse cx="255.60" cy="463.40" rx="1.3" ry="0.8" fill="#111"/>
<text x="246.80" y="423.36" font-size="5.4" text-anchor="start" fill="#2a2a2a" stroke="#2a2a2a" stroke-width="0.08">76</text>
<text x="290.10" y="423.36" font-size="5.4" text-anchor="end" fill="#2a2a2a" stroke="#2a2a2a" stroke-width="0.08">24</text>
<text x="246.80" y="460.16" font-size="5.4" text-anchor="start" fill="#2a2a2a" stroke="#2a2a2a" stroke-width="0.08">0</text>
<text x="290.10" y="460.16" font-size="5.4" text-anchor="end" fill="#2a2a2a" stroke="#2a2a2a" stroke-width="0.08">0</text>
<text x="248.70" y="471.40" font-size="6.1" text-anchor="middle" fill="#2a2a2a" stroke="#2a2a2a" stroke-width="0.12" textLength="6.35" lengthAdjust="spacingAndGlyphs">10</text>
<text x="252.03" y="468.45" font-size="3.904" text-anchor="start" fill="#2a2a2a" stroke="#2a2a2a" stroke-width="0.1">3</text>
<line x1="241.32" y1="469.60" x2="244.62" y2="469.60" stroke="#2a2a2a" stroke-width="0.75" />
<text x="255.30" y="471.37" font-size="6.0" text-anchor="middle" fill="#2a2a2a" stroke="#2a2a2a" stroke-width="0.12" textLength="3.00" lengthAdjust="spacingAndGlyphs">0</text>
<text x="261.00" y="471.40" font-size="6.1" text-anchor="middle" fill="#2a2a2a" stroke="#2a2a2a" stroke-width="0.12" textLength="6.35" lengthAdjust="spacingAndGlyphs">10</text>
<text x="264.32" y="468.45" font-size="3.904" text-anchor="start" fill="#2a2a2a" stroke="#2a2a2a" stroke-width="0.1">3</text>
<text x="275.10" y="471.40" font-size="6.1" text-anchor="middle" fill="#2a2a2a" stroke="#2a2a2a" stroke-width="0.12" textLength="6.35" lengthAdjust="spacingAndGlyphs">10</text>
<text x="278.43" y="468.45" font-size="3.904" text-anchor="start" fill="#2a2a2a" stroke="#2a2a2a" stroke-width="0.1">4</text>
<text x="286.40" y="471.40" font-size="6.1" text-anchor="middle" fill="#2a2a2a" stroke="#2a2a2a" stroke-width="0.12" textLength="6.35" lengthAdjust="spacingAndGlyphs">10</text>
<text x="289.72" y="468.45" font-size="3.904" text-anchor="start" fill="#2a2a2a" stroke="#2a2a2a" stroke-width="0.1">5</text>
<g clip-path="url(#c3003_4162)">
<ellipse cx="312.50" cy="434.80" rx="7.5" ry="6" fill="#000" opacity="0.38" filter="url(#b2)"/>
<ellipse cx="317.80" cy="434.30" rx="4.704000000000001" ry="4.368" fill="#000" opacity="0.97" filter="url(#b9)"/>
</g>
<rect x="300.30" y="416.20" width="47" height="46.5" fill="none" stroke="#6e6e6e" stroke-width="1"/>
<line x1="325.30" y1="416.20" x2="325.30" y2="462.70" stroke="#6e6e6e" stroke-width="1" />
<line x1="300.30" y1="443.40" x2="347.30" y2="443.40" stroke="#6e6e6e" stroke-width="1" />
<line x1="300.30" y1="416.20" x2="300.30" y2="462.70" stroke="#4a4a4a" stroke-width="1" />
<line x1="300.30" y1="462.70" x2="347.30" y2="462.70" stroke="#505050" stroke-width="1" />
<line x1="299.30" y1="420.70" x2="300.70" y2="420.70" stroke="#111" stroke-width="1.0" />
<line x1="299.30" y1="432.45" x2="300.70" y2="432.45" stroke="#111" stroke-width="1.0" />
<line x1="299.30" y1="445.30" x2="300.70" y2="445.30" stroke="#111" stroke-width="1.0" />
<line x1="299.30" y1="452.50" x2="300.70" y2="452.50" stroke="#111" stroke-width="1.0" />
<line x1="299.30" y1="460.30" x2="300.70" y2="460.30" stroke="#111" stroke-width="1.0" />
<ellipse cx="300.10" cy="453.00" rx="0.8" ry="1.2" fill="#111"/>
<line x1="303.90" y1="462.30" x2="303.90" y2="463.70" stroke="#222" stroke-width="0.9" />
<line x1="311.30" y1="462.30" x2="311.30" y2="463.70" stroke="#222" stroke-width="0.9" />
<line x1="317.90" y1="462.30" x2="317.90" y2="463.70" stroke="#222" stroke-width="0.9" />
<line x1="331.80" y1="462.30" x2="331.80" y2="463.70" stroke="#222" stroke-width="0.9" />
<line x1="343.10" y1="462.30" x2="343.10" y2="463.70" stroke="#222" stroke-width="0.9" />
<ellipse cx="311.30" cy="463.40" rx="1.3" ry="0.8" fill="#111"/>
<text x="302.50" y="423.36" font-size="5.4" text-anchor="start" fill="#2a2a2a" stroke="#2a2a2a" stroke-width="0.08">99</text>
<text x="345.80" y="423.36" font-size="5.4" text-anchor="end" fill="#2a2a2a" stroke="#2a2a2a" stroke-width="0.08">1</text>
<text x="302.50" y="460.16" font-size="5.4" text-anchor="start" fill="#2a2a2a" stroke="#2a2a2a" stroke-width="0.08">0</text>
<text x="345.80" y="460.16" font-size="5.4" text-anchor="end" fill="#2a2a2a" stroke="#2a2a2a" stroke-width="0.08">0</text>
<text x="304.40" y="471.40" font-size="6.1" text-anchor="middle" fill="#2a2a2a" stroke="#2a2a2a" stroke-width="0.12" textLength="6.35" lengthAdjust="spacingAndGlyphs">10</text>
<text x="307.73" y="468.45" font-size="3.904" text-anchor="start" fill="#2a2a2a" stroke="#2a2a2a" stroke-width="0.1">3</text>
<line x1="297.03" y1="469.60" x2="300.33" y2="469.60" stroke="#2a2a2a" stroke-width="0.75" />
<text x="311.00" y="471.37" font-size="6.0" text-anchor="middle" fill="#2a2a2a" stroke="#2a2a2a" stroke-width="0.12" textLength="3.00" lengthAdjust="spacingAndGlyphs">0</text>
<text x="316.70" y="471.40" font-size="6.1" text-anchor="middle" fill="#2a2a2a" stroke="#2a2a2a" stroke-width="0.12" textLength="6.35" lengthAdjust="spacingAndGlyphs">10</text>
<text x="320.02" y="468.45" font-size="3.904" text-anchor="start" fill="#2a2a2a" stroke="#2a2a2a" stroke-width="0.1">3</text>
<text x="330.80" y="471.40" font-size="6.1" text-anchor="middle" fill="#2a2a2a" stroke="#2a2a2a" stroke-width="0.12" textLength="6.35" lengthAdjust="spacingAndGlyphs">10</text>
<text x="334.12" y="468.45" font-size="3.904" text-anchor="start" fill="#2a2a2a" stroke="#2a2a2a" stroke-width="0.1">4</text>
<text x="342.10" y="471.40" font-size="6.1" text-anchor="middle" fill="#2a2a2a" stroke="#2a2a2a" stroke-width="0.12" textLength="6.35" lengthAdjust="spacingAndGlyphs">10</text>
<text x="345.43" y="468.45" font-size="3.904" text-anchor="start" fill="#2a2a2a" stroke="#2a2a2a" stroke-width="0.1">5</text>
<g clip-path="url(#c3540_4162)">
<ellipse cx="368.00" cy="434.50" rx="6.5" ry="7" fill="#000" opacity="0.38" filter="url(#b2)"/>
<ellipse cx="372.20" cy="432.80" rx="3.9200000000000004" ry="5.936" fill="#000" opacity="0.97" filter="url(#b9)"/>
</g>
<rect x="354.00" y="416.20" width="47" height="46.5" fill="none" stroke="#6e6e6e" stroke-width="1"/>
<line x1="379.00" y1="416.20" x2="379.00" y2="462.70" stroke="#6e6e6e" stroke-width="1" />
<line x1="354.00" y1="443.40" x2="401.00" y2="443.40" stroke="#6e6e6e" stroke-width="1" />
<line x1="354.00" y1="416.20" x2="354.00" y2="462.70" stroke="#4a4a4a" stroke-width="1" />
<line x1="354.00" y1="462.70" x2="401.00" y2="462.70" stroke="#505050" stroke-width="1" />
<line x1="353.00" y1="420.70" x2="354.40" y2="420.70" stroke="#111" stroke-width="1.0" />
<line x1="353.00" y1="432.45" x2="354.40" y2="432.45" stroke="#111" stroke-width="1.0" />
<line x1="353.00" y1="445.30" x2="354.40" y2="445.30" stroke="#111" stroke-width="1.0" />
<line x1="353.00" y1="452.50" x2="354.40" y2="452.50" stroke="#111" stroke-width="1.0" />
<line x1="353.00" y1="460.30" x2="354.40" y2="460.30" stroke="#111" stroke-width="1.0" />
<ellipse cx="353.80" cy="453.00" rx="0.8" ry="1.2" fill="#111"/>
<line x1="357.60" y1="462.30" x2="357.60" y2="463.70" stroke="#222" stroke-width="0.9" />
<line x1="365.00" y1="462.30" x2="365.00" y2="463.70" stroke="#222" stroke-width="0.9" />
<line x1="371.60" y1="462.30" x2="371.60" y2="463.70" stroke="#222" stroke-width="0.9" />
<line x1="385.50" y1="462.30" x2="385.50" y2="463.70" stroke="#222" stroke-width="0.9" />
<line x1="396.80" y1="462.30" x2="396.80" y2="463.70" stroke="#222" stroke-width="0.9" />
<ellipse cx="365.00" cy="463.40" rx="1.3" ry="0.8" fill="#111"/>
<text x="356.20" y="423.36" font-size="5.4" text-anchor="start" fill="#2a2a2a" stroke="#2a2a2a" stroke-width="0.08">95</text>
<text x="399.50" y="423.36" font-size="5.4" text-anchor="end" fill="#2a2a2a" stroke="#2a2a2a" stroke-width="0.08">5</text>
<text x="356.20" y="460.16" font-size="5.4" text-anchor="start" fill="#2a2a2a" stroke="#2a2a2a" stroke-width="0.08">0</text>
<text x="399.50" y="460.16" font-size="5.4" text-anchor="end" fill="#2a2a2a" stroke="#2a2a2a" stroke-width="0.08">0</text>
<text x="358.10" y="471.40" font-size="6.1" text-anchor="middle" fill="#2a2a2a" stroke="#2a2a2a" stroke-width="0.12" textLength="6.35" lengthAdjust="spacingAndGlyphs">10</text>
<text x="361.43" y="468.45" font-size="3.904" text-anchor="start" fill="#2a2a2a" stroke="#2a2a2a" stroke-width="0.1">3</text>
<line x1="350.73" y1="469.60" x2="354.03" y2="469.60" stroke="#2a2a2a" stroke-width="0.75" />
<text x="364.70" y="471.37" font-size="6.0" text-anchor="middle" fill="#2a2a2a" stroke="#2a2a2a" stroke-width="0.12" textLength="3.00" lengthAdjust="spacingAndGlyphs">0</text>
<text x="370.40" y="471.40" font-size="6.1" text-anchor="middle" fill="#2a2a2a" stroke="#2a2a2a" stroke-width="0.12" textLength="6.35" lengthAdjust="spacingAndGlyphs">10</text>
<text x="373.72" y="468.45" font-size="3.904" text-anchor="start" fill="#2a2a2a" stroke="#2a2a2a" stroke-width="0.1">3</text>
<text x="384.50" y="471.40" font-size="6.1" text-anchor="middle" fill="#2a2a2a" stroke="#2a2a2a" stroke-width="0.12" textLength="6.35" lengthAdjust="spacingAndGlyphs">10</text>
<text x="387.82" y="468.45" font-size="3.904" text-anchor="start" fill="#2a2a2a" stroke="#2a2a2a" stroke-width="0.1">4</text>
<text x="395.80" y="471.40" font-size="6.1" text-anchor="middle" fill="#2a2a2a" stroke="#2a2a2a" stroke-width="0.12" textLength="6.35" lengthAdjust="spacingAndGlyphs">10</text>
<text x="399.12" y="468.45" font-size="3.904" text-anchor="start" fill="#2a2a2a" stroke="#2a2a2a" stroke-width="0.1">5</text>
<text x="241.50" y="344.50" font-size="8.7" text-anchor="middle" fill="#2a2a2a" stroke="#2a2a2a" stroke-width="0.12" textLength="12.40" lengthAdjust="spacingAndGlyphs">HD</text>
<text x="351.00" y="344.50" font-size="8.7" text-anchor="middle" fill="#2a2a2a" stroke="#2a2a2a" stroke-width="0.12" textLength="30.40" lengthAdjust="spacingAndGlyphs">Case #2</text>
<line x1="192.00" y1="349.60" x2="291.50" y2="349.60" stroke="#4a4a4a" stroke-width="1.2" />
<line x1="301.30" y1="349.60" x2="400.80" y2="349.60" stroke="#4a4a4a" stroke-width="1.2" />
<text x="214.80" y="358.61" font-size="6.7" text-anchor="middle" fill="#2a2a2a" stroke="#2a2a2a" stroke-width="0.12" textLength="13.30" lengthAdjust="spacingAndGlyphs">– IL2</text>
<text x="268.10" y="358.61" font-size="6.7" text-anchor="middle" fill="#2a2a2a" stroke="#2a2a2a" stroke-width="0.12" textLength="13.30" lengthAdjust="spacingAndGlyphs">+ IL2</text>
<text x="323.80" y="358.61" font-size="6.7" text-anchor="middle" fill="#2a2a2a" stroke="#2a2a2a" stroke-width="0.12" textLength="13.30" lengthAdjust="spacingAndGlyphs">– IL2</text>
<text x="377.50" y="358.61" font-size="6.7" text-anchor="middle" fill="#2a2a2a" stroke="#2a2a2a" stroke-width="0.12" textLength="13.30" lengthAdjust="spacingAndGlyphs">+ IL2</text>
<text x="165.40" y="389.11" font-size="9.3" text-anchor="middle" fill="#2a2a2a" stroke="#2a2a2a" stroke-width="0.12" textLength="25.30" lengthAdjust="spacingAndGlyphs" transform="rotate(-90 165.40 385.90)">- Targets</text>
<text x="165.30" y="441.81" font-size="9.3" text-anchor="middle" fill="#2a2a2a" stroke="#2a2a2a" stroke-width="0.12" textLength="27.30" lengthAdjust="spacingAndGlyphs" transform="rotate(-90 165.30 438.60)">+ Targets</text>
<text x="149.60" y="463.64" font-size="9.4" text-anchor="middle" fill="#2a2a2a" stroke="#2a2a2a" stroke-width="0.12" textLength="16.70" lengthAdjust="spacingAndGlyphs" transform="rotate(-90 149.60 460.40)">CD56</text>
<text x="178.60" y="488.87" font-size="8.9" text-anchor="middle" fill="#2a2a2a" stroke="#2a2a2a" stroke-width="0.12" textLength="22.00" lengthAdjust="spacingAndGlyphs">LAMP-1</text>
<line x1="158.00" y1="447.50" x2="158.00" y2="478.30" stroke="#1a1a1a" stroke-width="1.1" />
<line x1="157.45" y1="478.30" x2="194.50" y2="478.30" stroke="#1a1a1a" stroke-width="1.1" />
<path d="M158,444.2 L160.3,449.4 L155.7,449.4 Z" fill="#1a1a1a"/>
<path d="M198,478.3 L192.8,476.0 L192.8,480.6 Z" fill="#1a1a1a"/>
<line x1="51.30" y1="380.00" x2="51.30" y2="463.00" stroke="#111" stroke-width="1.05" />
<line x1="48.20" y1="462.50" x2="132.00" y2="462.50" stroke="#111" stroke-width="1.05" />
<line x1="48.20" y1="462.40" x2="51.30" y2="462.40" stroke="#111" stroke-width="1.0" />
<line x1="48.20" y1="442.05" x2="51.30" y2="442.05" stroke="#111" stroke-width="1.0" />
<text x="44.60" y="444.26" font-size="6.4" text-anchor="end" fill="#2a2a2a" stroke="#2a2a2a" stroke-width="0.12" textLength="6.40" lengthAdjust="spacingAndGlyphs">25</text>
<line x1="48.20" y1="421.70" x2="51.30" y2="421.70" stroke="#111" stroke-width="1.0" />
<text x="44.60" y="423.91" font-size="6.4" text-anchor="end" fill="#2a2a2a" stroke="#2a2a2a" stroke-width="0.12" textLength="6.40" lengthAdjust="spacingAndGlyphs">50</text>
<line x1="48.20" y1="401.35" x2="51.30" y2="401.35" stroke="#111" stroke-width="1.0" />
<text x="44.60" y="403.56" font-size="6.4" text-anchor="end" fill="#2a2a2a" stroke="#2a2a2a" stroke-width="0.12" textLength="6.40" lengthAdjust="spacingAndGlyphs">75</text>
<line x1="48.20" y1="381.00" x2="51.30" y2="381.00" stroke="#111" stroke-width="1.0" />
<text x="44.60" y="383.21" font-size="6.4" text-anchor="end" fill="#2a2a2a" stroke="#2a2a2a" stroke-width="0.12" textLength="9.60" lengthAdjust="spacingAndGlyphs">100</text>
<text x="44.80" y="464.61" font-size="6.4" text-anchor="end" fill="#2a2a2a" stroke="#2a2a2a" stroke-width="0.12">0</text>
<line x1="51.30" y1="462.50" x2="51.30" y2="465.30" stroke="#111" stroke-width="1.0" />
<line x1="59.35" y1="462.50" x2="59.35" y2="464.20" stroke="#111" stroke-width="0.75" />
<line x1="64.06" y1="462.50" x2="64.06" y2="464.20" stroke="#111" stroke-width="0.75" />
<line x1="67.41" y1="462.50" x2="67.41" y2="464.20" stroke="#111" stroke-width="0.75" />
<line x1="70.00" y1="462.50" x2="70.00" y2="464.20" stroke="#111" stroke-width="0.75" />
<line x1="72.12" y1="462.50" x2="72.12" y2="464.20" stroke="#111" stroke-width="0.75" />
<line x1="73.91" y1="462.50" x2="73.91" y2="464.20" stroke="#111" stroke-width="0.75" />
<line x1="75.46" y1="462.50" x2="75.46" y2="464.20" stroke="#111" stroke-width="0.75" />
<line x1="76.83" y1="462.50" x2="76.83" y2="464.20" stroke="#111" stroke-width="0.75" />
<line x1="78.05" y1="462.50" x2="78.05" y2="465.30" stroke="#111" stroke-width="1.0" />
<line x1="86.10" y1="462.50" x2="86.10" y2="464.20" stroke="#111" stroke-width="0.75" />
<line x1="90.81" y1="462.50" x2="90.81" y2="464.20" stroke="#111" stroke-width="0.75" />
<line x1="94.16" y1="462.50" x2="94.16" y2="464.20" stroke="#111" stroke-width="0.75" />
<line x1="96.75" y1="462.50" x2="96.75" y2="464.20" stroke="#111" stroke-width="0.75" />
<line x1="98.87" y1="462.50" x2="98.87" y2="464.20" stroke="#111" stroke-width="0.75" />
<line x1="100.66" y1="462.50" x2="100.66" y2="464.20" stroke="#111" stroke-width="0.75" />
<line x1="102.21" y1="462.50" x2="102.21" y2="464.20" stroke="#111" stroke-width="0.75" />
<line x1="103.58" y1="462.50" x2="103.58" y2="464.20" stroke="#111" stroke-width="0.75" />
<line x1="104.80" y1="462.50" x2="104.80" y2="465.30" stroke="#111" stroke-width="1.0" />
<line x1="112.85" y1="462.50" x2="112.85" y2="464.20" stroke="#111" stroke-width="0.75" />
<line x1="117.56" y1="462.50" x2="117.56" y2="464.20" stroke="#111" stroke-width="0.75" />
<line x1="120.91" y1="462.50" x2="120.91" y2="464.20" stroke="#111" stroke-width="0.75" />
<line x1="123.50" y1="462.50" x2="123.50" y2="464.20" stroke="#111" stroke-width="0.75" />
<line x1="125.62" y1="462.50" x2="125.62" y2="464.20" stroke="#111" stroke-width="0.75" />
<line x1="127.41" y1="462.50" x2="127.41" y2="464.20" stroke="#111" stroke-width="0.75" />
<line x1="128.96" y1="462.50" x2="128.96" y2="464.20" stroke="#111" stroke-width="0.75" />
<line x1="130.33" y1="462.50" x2="130.33" y2="464.20" stroke="#111" stroke-width="0.75" />
<line x1="131.55" y1="462.50" x2="131.55" y2="465.30" stroke="#111" stroke-width="1.0" />
<text x="50.90" y="474.41" font-size="6.4" text-anchor="middle" fill="#2a2a2a" stroke="#2a2a2a" stroke-width="0.12" textLength="10.50" lengthAdjust="spacingAndGlyphs">0.01</text>
<text x="77.65" y="474.41" font-size="6.4" text-anchor="middle" fill="#2a2a2a" stroke="#2a2a2a" stroke-width="0.12" textLength="7.60" lengthAdjust="spacingAndGlyphs">0.1</text>
<text x="104.40" y="474.41" font-size="6.4" text-anchor="middle" fill="#2a2a2a" stroke="#2a2a2a" stroke-width="0.12">1</text>
<text x="131.15" y="474.41" font-size="6.4" text-anchor="middle" fill="#2a2a2a" stroke="#2a2a2a" stroke-width="0.12" textLength="6.30" lengthAdjust="spacingAndGlyphs">10</text>
<text x="92.00" y="488.94" font-size="8.8" text-anchor="middle" fill="#2a2a2a" stroke="#2a2a2a" stroke-width="0.12" textLength="23.70" lengthAdjust="spacingAndGlyphs">E:T ratio</text>
<text x="27.00" y="424.54" font-size="9.4" text-anchor="middle" fill="#2a2a2a" stroke="#2a2a2a" stroke-width="0.12" transform="rotate(-90 27.00 421.30)" textLength="63.5" lengthAdjust="spacingAndGlyphs">% specific <tspan font-size="5.6" dy="-3.4">51</tspan><tspan dy="3.4">Cr release</tspan></text>
<path d="M52.00,461.80 C53.67,461.50 58.67,460.72 62.00,460.00 C65.33,459.28 68.67,458.33 72.00,457.50 C75.33,456.67 78.67,455.92 82.00,455.00 C85.33,454.08 89.00,452.92 92.00,452.00 C95.00,451.08 97.42,450.42 100.00,449.50 C102.58,448.58 106.25,447.00 107.50,446.50" fill="none" stroke="#d4546e" stroke-width="0.8" stroke-dasharray="1.1,1.1"/>
<path d="M52.00,462.20 C53.67,462.08 58.67,461.90 62.00,461.50 C65.33,461.10 68.67,460.55 72.00,459.80 C75.33,459.05 78.67,458.03 82.00,457.00 C85.33,455.97 89.00,454.72 92.00,453.60 C95.00,452.48 97.83,451.23 100.00,450.30 C102.17,449.37 104.17,448.38 105.00,448.00" fill="none" stroke="#c01a3c" stroke-width="0.85" stroke-dasharray="2.2,1.1"/>
<path d="M52.00,462.30 C54.33,462.25 62.00,462.17 66.00,462.00 C70.00,461.83 73.12,461.60 76.00,461.30 C78.88,461.00 80.63,460.83 83.30,460.20 C85.97,459.57 89.05,459.08 92.00,457.50 C94.95,455.92 98.03,454.20 101.00,450.70 C103.97,447.20 106.85,441.37 109.80,436.50 C112.75,431.63 116.25,425.50 118.70,421.50 C121.15,417.50 122.57,414.97 124.50,412.50 C126.43,410.03 129.33,407.67 130.30,406.70" fill="none" stroke="#4a86b8" stroke-width="0.85" stroke-dasharray="1.1,1.1"/>
<path d="M52.00,462.20 C53.10,462.07 56.27,461.73 58.60,461.40 C60.93,461.07 63.35,460.72 66.00,460.20 C68.65,459.68 71.62,459.20 74.50,458.30 C77.38,457.40 80.35,456.68 83.30,454.80 C86.25,452.92 89.83,449.72 92.20,447.00 C94.57,444.28 95.45,442.17 97.50,438.50 C99.55,434.83 101.85,429.78 104.50,425.00 C107.15,420.22 110.45,414.38 113.40,409.80 C116.35,405.22 119.70,400.37 122.20,397.50 C124.70,394.63 127.37,393.42 128.40,392.60" fill="none" stroke="#4b1a44" stroke-width="1.0"/>
<circle cx="56.00" cy="461.80" r="1.35" fill="#3a1036" stroke="#3a1036" stroke-width="0.75"/>
<circle cx="63.00" cy="461.80" r="1.35" fill="#3a1036" stroke="#3a1036" stroke-width="0.75"/>
<circle cx="70.00" cy="462.20" r="1.35" fill="#3a1036" stroke="#3a1036" stroke-width="0.75"/>
<circle cx="88.30" cy="454.20" r="1.35" fill="#3a1036" stroke="#3a1036" stroke-width="0.75"/>
<circle cx="96.20" cy="437.40" r="1.35" fill="#3a1036" stroke="#3a1036" stroke-width="0.75"/>
<circle cx="104.50" cy="424.20" r="1.35" fill="#3a1036" stroke="#3a1036" stroke-width="0.75"/>
<circle cx="113.00" cy="404.70" r="1.35" fill="#3a1036" stroke="#3a1036" stroke-width="0.75"/>
<circle cx="121.00" cy="398.60" r="1.35" fill="#3a1036" stroke="#3a1036" stroke-width="0.75"/>
<circle cx="129.30" cy="395.00" r="1.35" fill="#3a1036" stroke="#3a1036" stroke-width="0.75"/>
<circle cx="60.00" cy="462.20" r="1.45" fill="white" stroke="#4a86b8" stroke-width="0.75"/>
<circle cx="67.00" cy="462.50" r="1.45" fill="white" stroke="#4a86b8" stroke-width="0.75"/>
<circle cx="89.00" cy="457.80" r="1.45" fill="white" stroke="#4a86b8" stroke-width="0.75"/>
<circle cx="97.50" cy="453.30" r="1.45" fill="white" stroke="#4a86b8" stroke-width="0.75"/>
<circle cx="105.80" cy="445.40" r="1.45" fill="white" stroke="#4a86b8" stroke-width="0.75"/>
<circle cx="114.30" cy="429.50" r="1.45" fill="white" stroke="#4a86b8" stroke-width="0.75"/>
<circle cx="122.70" cy="415.30" r="1.45" fill="white" stroke="#4a86b8" stroke-width="0.75"/>
<circle cx="130.30" cy="406.90" r="1.45" fill="white" stroke="#4a86b8" stroke-width="0.75"/>
<path d="M57.00,459.33 L58.67,462.33 L55.33,462.33 Z" fill="white" stroke="#d4546e" stroke-width="0.75"/>
<path d="M66.00,459.63 L67.67,462.63 L64.33,462.63 Z" fill="white" stroke="#d4546e" stroke-width="0.75"/>
<path d="M74.50,453.93 L76.17,456.93 L72.83,456.93 Z" fill="white" stroke="#d4546e" stroke-width="0.75"/>
<path d="M83.40,452.93 L85.07,455.93 L81.73,455.93 Z" fill="white" stroke="#d4546e" stroke-width="0.75"/>
<path d="M91.30,439.33 L92.97,442.33 L89.63,442.33 Z" fill="white" stroke="#d4546e" stroke-width="0.75"/>
<path d="M108.10,451.63 L109.77,454.63 L106.43,454.63 Z" fill="white" stroke="#d4546e" stroke-width="0.75"/>
<path d="M61.00,460.25 L62.55,463.04 L59.45,463.04 Z" fill="#c01a3c" stroke="#c01a3c" stroke-width="0.75"/>
<path d="M70.00,460.45 L71.55,463.24 L68.45,463.24 Z" fill="#c01a3c" stroke="#c01a3c" stroke-width="0.75"/>
<path d="M82.50,455.65 L84.05,458.44 L80.95,458.44 Z" fill="#c01a3c" stroke="#c01a3c" stroke-width="0.75"/>
<path d="M91.30,451.75 L92.85,454.54 L89.75,454.54 Z" fill="#c01a3c" stroke="#c01a3c" stroke-width="0.75"/>
<path d="M99.20,449.15 L100.75,451.94 L97.65,451.94 Z" fill="#c01a3c" stroke="#c01a3c" stroke-width="0.75"/>
<path d="M104.00,446.95 L105.55,449.74 L102.45,449.74 Z" fill="#c01a3c" stroke="#c01a3c" stroke-width="0.75"/>
<line x1="53.60" y1="386.20" x2="62.00" y2="386.20" stroke="#4a86b8" stroke-width="0.9" stroke-dasharray="1.1,1.1"/>
<circle cx="57.70" cy="386.20" r="1.45" fill="white" stroke="#4a86b8" stroke-width="0.75"/>
<text x="65.70" y="388.24" font-size="5.9" text-anchor="start" fill="#2a2a2a" stroke="#2a2a2a" stroke-width="0.12" textLength="8.50" lengthAdjust="spacingAndGlyphs">HD</text>
<line x1="53.60" y1="395.70" x2="62.00" y2="395.70" stroke="#3a1036" stroke-width="0.9" />
<circle cx="57.70" cy="395.70" r="1.45" fill="#3a1036" stroke="#3a1036" stroke-width="0.75"/>
<text x="65.70" y="397.74" font-size="5.9" text-anchor="start" fill="#2a2a2a" stroke="#2a2a2a" stroke-width="0.12" textLength="23.90" lengthAdjust="spacingAndGlyphs">HD + IL2</text>
<line x1="53.60" y1="405.20" x2="62.00" y2="405.20" stroke="#d4546e" stroke-width="0.9" stroke-dasharray="1.1,1.1"/>
<path d="M57.70,403.53 L59.37,406.53 L56.03,406.53 Z" fill="white" stroke="#d4546e" stroke-width="0.75"/>
<text x="65.70" y="407.24" font-size="5.9" text-anchor="start" fill="#2a2a2a" stroke="#2a2a2a" stroke-width="0.12" textLength="20.30" lengthAdjust="spacingAndGlyphs">Case #2</text>
<line x1="53.60" y1="414.70" x2="62.00" y2="414.70" stroke="#c01a3c" stroke-width="0.9" stroke-dasharray="2.2,1.1"/>
<path d="M57.70,413.03 L59.37,416.03 L56.03,416.03 Z" fill="#c01a3c" stroke="#c01a3c" stroke-width="0.75"/>
<text x="65.70" y="416.74" font-size="5.9" text-anchor="start" fill="#2a2a2a" stroke="#2a2a2a" stroke-width="0.12" textLength="36.20" lengthAdjust="spacingAndGlyphs">Case #2 + IL2</text>
<rect x="432.6" y="379.5" width="44.1" height="21.6" fill="#e8e8e8"/>
<rect x="432.6" y="401.8" width="44.1" height="18.9" fill="#e8e8e8"/>
<rect x="440.4" y="389.4" width="13.2" height="3.7" rx="1.8" ry="1.6" fill="#050505" filter="url(#bb)"/>
<path d="M438.6,387.0 L441.5,389.5 L440.5,390.5 Z" fill="#666" filter="url(#bb)"/>
<rect x="456.0" y="391.0" width="11.2" height="2.0" rx="0.8" fill="#a0a0a0" filter="url(#bb)"/>
<rect x="439.5" y="410.5" width="14.8" height="4.8" rx="2.4" ry="2.2" fill="#030303" filter="url(#bb)"/>
<rect x="455.1" y="412.0" width="13.1" height="4.0" rx="2.2" ry="1.9" fill="#080808" filter="url(#bb)"/>
<text x="427.60" y="385.11" font-size="6.4" text-anchor="end" fill="#2a2a2a" stroke="#2a2a2a" stroke-width="0.12" textLength="10.60" lengthAdjust="spacingAndGlyphs">190</text>
<line x1="429.80" y1="382.90" x2="432.40" y2="382.90" stroke="#222" stroke-width="1.0" />
<text x="427.60" y="396.61" font-size="6.4" text-anchor="end" fill="#2a2a2a" stroke="#2a2a2a" stroke-width="0.12" textLength="10.60" lengthAdjust="spacingAndGlyphs">115</text>
<line x1="429.80" y1="394.40" x2="432.40" y2="394.40" stroke="#222" stroke-width="1.0" />
<text x="427.60" y="405.11" font-size="6.4" text-anchor="end" fill="#2a2a2a" stroke="#2a2a2a" stroke-width="0.12" textLength="7.00" lengthAdjust="spacingAndGlyphs">50</text>
<line x1="429.80" y1="402.90" x2="432.40" y2="402.90" stroke="#222" stroke-width="1.0" />
<text x="427.60" y="421.61" font-size="6.4" text-anchor="end" fill="#2a2a2a" stroke="#2a2a2a" stroke-width="0.12" textLength="7.00" lengthAdjust="spacingAndGlyphs">30</text>
<line x1="429.80" y1="419.40" x2="432.40" y2="419.40" stroke="#222" stroke-width="1.0" />
<text x="413.80" y="373.31" font-size="6.4" text-anchor="start" fill="#2a2a2a" stroke="#2a2a2a" stroke-width="0.12" textLength="11.80" lengthAdjust="spacingAndGlyphs">KDa</text>
<text x="446.30" y="374.65" font-size="6.8" text-anchor="middle" fill="#2a2a2a" stroke="#2a2a2a" stroke-width="0.12" textLength="9.00" lengthAdjust="spacingAndGlyphs" transform="rotate(-90 446.30 372.30)">HD</text>
<text x="460.20" y="367.35" font-size="6.8" text-anchor="middle" fill="#2a2a2a" stroke="#2a2a2a" stroke-width="0.12" textLength="23.20" lengthAdjust="spacingAndGlyphs" transform="rotate(-90 460.20 365.00)">Case #2</text>
<text x="480.20" y="392.08" font-size="6.6" text-anchor="start" fill="#2a2a2a" stroke="#2a2a2a" stroke-width="0.12" textLength="32.90" lengthAdjust="spacingAndGlyphs">MUNC13-4</text>
<text x="480.20" y="414.18" font-size="6.6" text-anchor="start" fill="#2a2a2a" stroke="#2a2a2a" stroke-width="0.12" textLength="19.90" lengthAdjust="spacingAndGlyphs">β-actin</text></svg></body></html>
